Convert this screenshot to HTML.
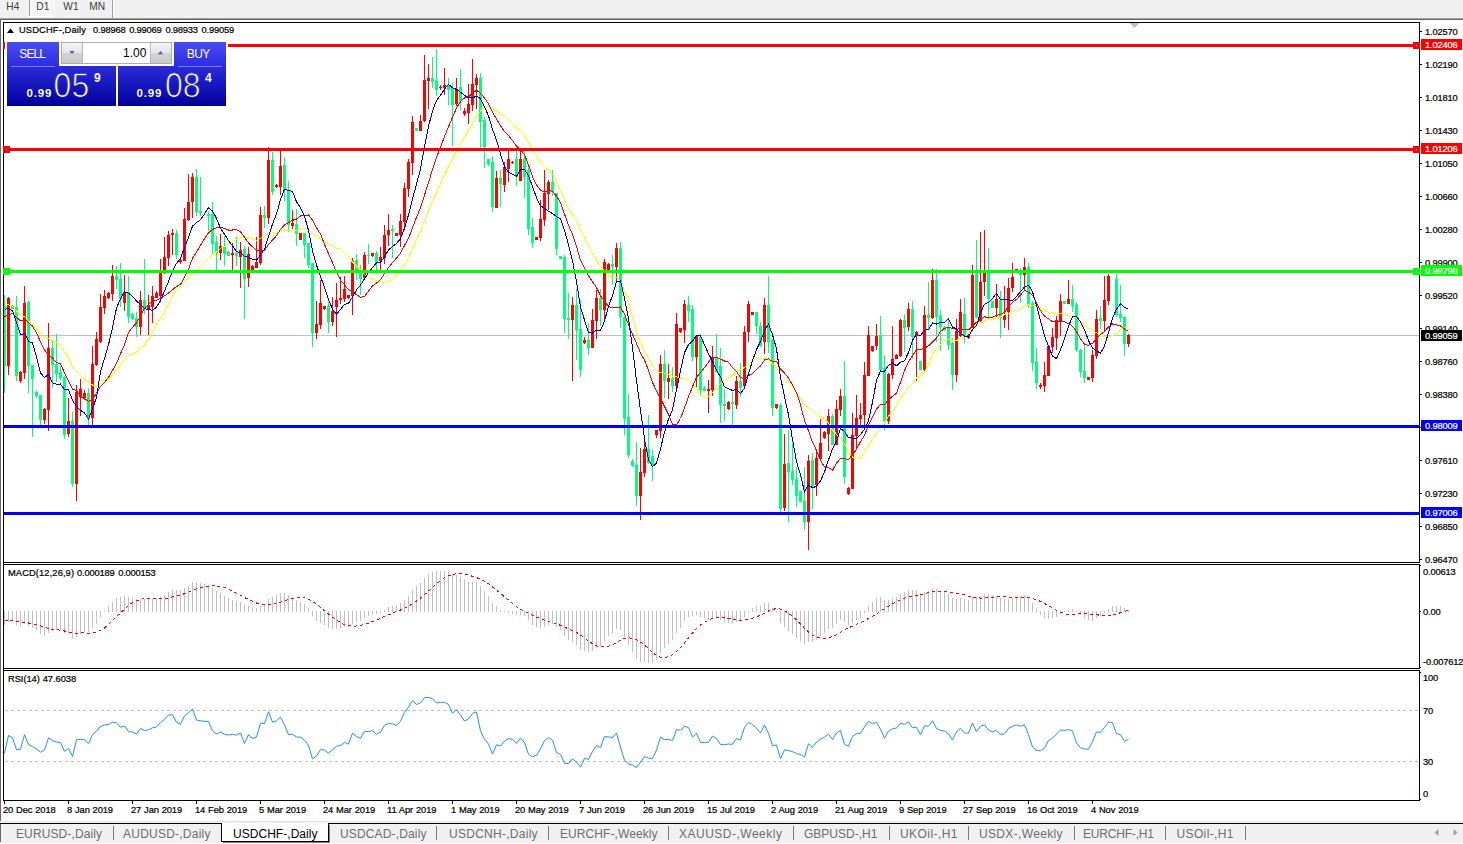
<!DOCTYPE html>
<html><head><meta charset="utf-8"><title>USDCHF Daily</title>
<style>
html,body{margin:0;padding:0;background:#fff;}
body{width:1463px;height:844px;position:relative;overflow:hidden;font-family:"Liberation Sans",sans-serif;}
svg{position:absolute;left:0;top:0;}
.t{position:absolute;white-space:nowrap;font-family:"Liberation Sans",sans-serif;}
</style></head><body>
<svg width="1463" height="844" viewBox="0 0 1463 844" shape-rendering="crispEdges">
<rect x="0" y="0" width="1463" height="844" fill="#ffffff"/>
<rect x="0" y="0" width="1463" height="18" fill="#f0f0f0"/>
<rect x="0" y="18" width="1463" height="1" fill="#a0a0a0"/>
<rect x="0" y="19" width="1463" height="1" fill="#696969"/>
<rect x="0" y="20" width="1" height="801" fill="#696969"/>
<rect x="29" y="0" width="1" height="16" fill="#a0a0a0"/>
<rect x="112" y="0" width="1" height="18" fill="#a0a0a0"/>
<rect x="113" y="0" width="1" height="18" fill="#ffffff"/>
<defs><pattern id="hatch" width="2" height="2" patternUnits="userSpaceOnUse"><rect width="2" height="2" fill="#f0f0f0"/><rect width="1" height="1" fill="#ffffff"/><rect x="1" y="1" width="1" height="1" fill="#ffffff"/></pattern></defs>
<rect x="30" y="0" width="24" height="16" fill="url(#hatch)"/>
<rect x="29" y="16" width="26" height="1" fill="#ffffff"/>
<rect x="54" y="0" width="1" height="17" fill="#ffffff"/>
<defs><clipPath id="cm"><rect x="4" y="23" width="1415" height="539"/></clipPath></defs>
<g clip-path="url(#cm)">
<rect x="4" y="335" width="1415" height="1" fill="#c0c0c0"/>
<rect x="4" y="295" width="1" height="98" fill="#00ff7f"/>
<rect x="3" y="306" width="3" height="60" fill="#00ff7f"/>
<rect x="8" y="297" width="1" height="78" fill="#ff0000"/>
<rect x="7" y="298" width="3" height="68" fill="#ff0000"/>
<rect x="12" y="305" width="1" height="4" fill="#00ff7f"/>
<rect x="11" y="306" width="3" height="3" fill="#00ff7f"/>
<rect x="16" y="296" width="1" height="85" fill="#00ff7f"/>
<rect x="15" y="307" width="3" height="69" fill="#00ff7f"/>
<rect x="20" y="371" width="1" height="12" fill="#ff0000"/>
<rect x="19" y="372" width="3" height="9" fill="#ff0000"/>
<rect x="24" y="286" width="1" height="93" fill="#ff0000"/>
<rect x="23" y="303" width="3" height="70" fill="#ff0000"/>
<rect x="28" y="301" width="1" height="92" fill="#00ff7f"/>
<rect x="27" y="302" width="3" height="64" fill="#00ff7f"/>
<rect x="32" y="365" width="1" height="72" fill="#00ff7f"/>
<rect x="31" y="365" width="3" height="14" fill="#00ff7f"/>
<rect x="36" y="390" width="1" height="8" fill="#00ff7f"/>
<rect x="35" y="392" width="3" height="4" fill="#00ff7f"/>
<rect x="40" y="395" width="1" height="30" fill="#00ff7f"/>
<rect x="39" y="395" width="3" height="25" fill="#00ff7f"/>
<rect x="44" y="408" width="1" height="16" fill="#ff0000"/>
<rect x="43" y="409" width="3" height="11" fill="#ff0000"/>
<rect x="48" y="323" width="1" height="108" fill="#ff0000"/>
<rect x="47" y="348" width="3" height="62" fill="#ff0000"/>
<rect x="52" y="341" width="1" height="47" fill="#00ff7f"/>
<rect x="51" y="348" width="3" height="17" fill="#00ff7f"/>
<rect x="56" y="334" width="1" height="48" fill="#00ff7f"/>
<rect x="55" y="364" width="3" height="10" fill="#00ff7f"/>
<rect x="60" y="366" width="1" height="14" fill="#00ff7f"/>
<rect x="59" y="372" width="3" height="6" fill="#00ff7f"/>
<rect x="64" y="376" width="1" height="63" fill="#00ff7f"/>
<rect x="63" y="377" width="3" height="58" fill="#00ff7f"/>
<rect x="68" y="398" width="1" height="39" fill="#ff0000"/>
<rect x="67" y="421" width="3" height="13" fill="#ff0000"/>
<rect x="72" y="412" width="1" height="75" fill="#00ff7f"/>
<rect x="71" y="421" width="3" height="63" fill="#00ff7f"/>
<rect x="76" y="385" width="1" height="116" fill="#ff0000"/>
<rect x="75" y="392" width="3" height="92" fill="#ff0000"/>
<rect x="80" y="379" width="1" height="37" fill="#ff0000"/>
<rect x="79" y="389" width="3" height="8" fill="#ff0000"/>
<rect x="84" y="390" width="1" height="10" fill="#ff0000"/>
<rect x="83" y="393" width="3" height="5" fill="#ff0000"/>
<rect x="88" y="388" width="1" height="37" fill="#00ff7f"/>
<rect x="87" y="393" width="3" height="26" fill="#00ff7f"/>
<rect x="92" y="346" width="1" height="79" fill="#ff0000"/>
<rect x="91" y="364" width="3" height="54" fill="#ff0000"/>
<rect x="96" y="332" width="1" height="34" fill="#ff0000"/>
<rect x="95" y="339" width="3" height="26" fill="#ff0000"/>
<rect x="100" y="294" width="1" height="49" fill="#ff0000"/>
<rect x="99" y="307" width="3" height="35" fill="#ff0000"/>
<rect x="104" y="290" width="1" height="24" fill="#ff0000"/>
<rect x="103" y="296" width="3" height="12" fill="#ff0000"/>
<rect x="108" y="292" width="1" height="7" fill="#ff0000"/>
<rect x="107" y="293" width="3" height="5" fill="#ff0000"/>
<rect x="112" y="265" width="1" height="36" fill="#ff0000"/>
<rect x="111" y="276" width="3" height="18" fill="#ff0000"/>
<rect x="116" y="266" width="1" height="23" fill="#00ff7f"/>
<rect x="115" y="276" width="3" height="4" fill="#00ff7f"/>
<rect x="120" y="263" width="1" height="44" fill="#00ff7f"/>
<rect x="119" y="279" width="3" height="20" fill="#00ff7f"/>
<rect x="124" y="275" width="1" height="36" fill="#ff0000"/>
<rect x="123" y="292" width="3" height="11" fill="#ff0000"/>
<rect x="128" y="276" width="1" height="47" fill="#00ff7f"/>
<rect x="127" y="292" width="3" height="25" fill="#00ff7f"/>
<rect x="132" y="313" width="1" height="7" fill="#00ff7f"/>
<rect x="131" y="314" width="3" height="5" fill="#00ff7f"/>
<rect x="136" y="312" width="1" height="25" fill="#00ff7f"/>
<rect x="135" y="318" width="3" height="9" fill="#00ff7f"/>
<rect x="140" y="291" width="1" height="44" fill="#ff0000"/>
<rect x="139" y="300" width="3" height="27" fill="#ff0000"/>
<rect x="144" y="259" width="1" height="55" fill="#00ff7f"/>
<rect x="143" y="300" width="3" height="9" fill="#00ff7f"/>
<rect x="148" y="295" width="1" height="40" fill="#ff0000"/>
<rect x="147" y="305" width="3" height="4" fill="#ff0000"/>
<rect x="152" y="286" width="1" height="37" fill="#ff0000"/>
<rect x="151" y="296" width="3" height="11" fill="#ff0000"/>
<rect x="156" y="291" width="1" height="7" fill="#ff0000"/>
<rect x="155" y="293" width="3" height="5" fill="#ff0000"/>
<rect x="160" y="259" width="1" height="39" fill="#ff0000"/>
<rect x="159" y="273" width="3" height="23" fill="#ff0000"/>
<rect x="164" y="237" width="1" height="37" fill="#ff0000"/>
<rect x="163" y="257" width="3" height="13" fill="#ff0000"/>
<rect x="168" y="231" width="1" height="35" fill="#ff0000"/>
<rect x="167" y="235" width="3" height="23" fill="#ff0000"/>
<rect x="172" y="229" width="1" height="26" fill="#ff0000"/>
<rect x="171" y="233" width="3" height="2" fill="#ff0000"/>
<rect x="176" y="230" width="1" height="29" fill="#00ff7f"/>
<rect x="175" y="233" width="3" height="22" fill="#00ff7f"/>
<rect x="180" y="259" width="1" height="5" fill="#ff0000"/>
<rect x="179" y="260" width="3" height="2" fill="#ff0000"/>
<rect x="184" y="208" width="1" height="53" fill="#ff0000"/>
<rect x="183" y="219" width="3" height="42" fill="#ff0000"/>
<rect x="188" y="174" width="1" height="47" fill="#ff0000"/>
<rect x="187" y="202" width="3" height="18" fill="#ff0000"/>
<rect x="192" y="173" width="1" height="45" fill="#ff0000"/>
<rect x="191" y="177" width="3" height="25" fill="#ff0000"/>
<rect x="196" y="169" width="1" height="47" fill="#00ff7f"/>
<rect x="195" y="177" width="3" height="35" fill="#00ff7f"/>
<rect x="200" y="177" width="1" height="39" fill="#00ff7f"/>
<rect x="199" y="211" width="3" height="2" fill="#00ff7f"/>
<rect x="208" y="211" width="1" height="20" fill="#00ff7f"/>
<rect x="207" y="214" width="3" height="2" fill="#00ff7f"/>
<rect x="212" y="202" width="1" height="52" fill="#00ff7f"/>
<rect x="211" y="214" width="3" height="30" fill="#00ff7f"/>
<rect x="216" y="236" width="1" height="36" fill="#00ff7f"/>
<rect x="215" y="242" width="3" height="12" fill="#00ff7f"/>
<rect x="220" y="234" width="1" height="26" fill="#ff0000"/>
<rect x="219" y="246" width="3" height="7" fill="#ff0000"/>
<rect x="224" y="236" width="1" height="30" fill="#00ff7f"/>
<rect x="223" y="247" width="3" height="7" fill="#00ff7f"/>
<rect x="228" y="251" width="1" height="5" fill="#00ff7f"/>
<rect x="227" y="252" width="3" height="4" fill="#00ff7f"/>
<rect x="232" y="243" width="1" height="29" fill="#ff0000"/>
<rect x="231" y="253" width="3" height="2" fill="#ff0000"/>
<rect x="236" y="237" width="1" height="29" fill="#00ff7f"/>
<rect x="235" y="253" width="3" height="3" fill="#00ff7f"/>
<rect x="240" y="242" width="1" height="46" fill="#ff0000"/>
<rect x="239" y="250" width="3" height="7" fill="#ff0000"/>
<rect x="244" y="246" width="1" height="73" fill="#00ff7f"/>
<rect x="243" y="249" width="3" height="30" fill="#00ff7f"/>
<rect x="248" y="247" width="1" height="40" fill="#ff0000"/>
<rect x="247" y="254" width="3" height="24" fill="#ff0000"/>
<rect x="252" y="265" width="1" height="5" fill="#ff0000"/>
<rect x="251" y="266" width="3" height="4" fill="#ff0000"/>
<rect x="256" y="237" width="1" height="31" fill="#ff0000"/>
<rect x="255" y="262" width="3" height="6" fill="#ff0000"/>
<rect x="260" y="207" width="1" height="58" fill="#ff0000"/>
<rect x="259" y="215" width="3" height="48" fill="#ff0000"/>
<rect x="264" y="206" width="1" height="22" fill="#00ff7f"/>
<rect x="263" y="215" width="3" height="3" fill="#00ff7f"/>
<rect x="268" y="147" width="1" height="77" fill="#ff0000"/>
<rect x="267" y="160" width="3" height="58" fill="#ff0000"/>
<rect x="272" y="152" width="1" height="43" fill="#00ff7f"/>
<rect x="271" y="160" width="3" height="32" fill="#00ff7f"/>
<rect x="276" y="184" width="1" height="4" fill="#ff0000"/>
<rect x="275" y="185" width="3" height="2" fill="#ff0000"/>
<rect x="280" y="151" width="1" height="44" fill="#ff0000"/>
<rect x="279" y="166" width="3" height="21" fill="#ff0000"/>
<rect x="284" y="157" width="1" height="44" fill="#00ff7f"/>
<rect x="283" y="165" width="3" height="25" fill="#00ff7f"/>
<rect x="288" y="181" width="1" height="51" fill="#00ff7f"/>
<rect x="287" y="190" width="3" height="35" fill="#00ff7f"/>
<rect x="292" y="210" width="1" height="19" fill="#ff0000"/>
<rect x="291" y="223" width="3" height="3" fill="#ff0000"/>
<rect x="296" y="209" width="1" height="37" fill="#00ff7f"/>
<rect x="295" y="224" width="3" height="10" fill="#00ff7f"/>
<rect x="300" y="233" width="1" height="7" fill="#ff0000"/>
<rect x="299" y="233" width="3" height="7" fill="#ff0000"/>
<rect x="304" y="233" width="1" height="25" fill="#00ff7f"/>
<rect x="303" y="233" width="3" height="12" fill="#00ff7f"/>
<rect x="308" y="243" width="1" height="25" fill="#00ff7f"/>
<rect x="307" y="243" width="3" height="22" fill="#00ff7f"/>
<rect x="312" y="263" width="1" height="84" fill="#00ff7f"/>
<rect x="311" y="263" width="3" height="70" fill="#00ff7f"/>
<rect x="316" y="301" width="1" height="38" fill="#ff0000"/>
<rect x="315" y="324" width="3" height="9" fill="#ff0000"/>
<rect x="320" y="280" width="1" height="49" fill="#ff0000"/>
<rect x="319" y="303" width="3" height="22" fill="#ff0000"/>
<rect x="324" y="306" width="1" height="4" fill="#ff0000"/>
<rect x="323" y="306" width="3" height="3" fill="#ff0000"/>
<rect x="328" y="302" width="1" height="31" fill="#00ff7f"/>
<rect x="327" y="306" width="3" height="16" fill="#00ff7f"/>
<rect x="332" y="297" width="1" height="29" fill="#ff0000"/>
<rect x="331" y="311" width="3" height="11" fill="#ff0000"/>
<rect x="336" y="283" width="1" height="54" fill="#ff0000"/>
<rect x="335" y="300" width="3" height="7" fill="#ff0000"/>
<rect x="340" y="277" width="1" height="27" fill="#ff0000"/>
<rect x="339" y="298" width="3" height="2" fill="#ff0000"/>
<rect x="344" y="276" width="1" height="26" fill="#ff0000"/>
<rect x="343" y="289" width="3" height="10" fill="#ff0000"/>
<rect x="348" y="295" width="1" height="4" fill="#ff0000"/>
<rect x="347" y="295" width="3" height="3" fill="#ff0000"/>
<rect x="352" y="258" width="1" height="57" fill="#ff0000"/>
<rect x="351" y="261" width="3" height="35" fill="#ff0000"/>
<rect x="356" y="254" width="1" height="26" fill="#00ff7f"/>
<rect x="355" y="260" width="3" height="13" fill="#00ff7f"/>
<rect x="360" y="265" width="1" height="30" fill="#00ff7f"/>
<rect x="359" y="273" width="3" height="6" fill="#00ff7f"/>
<rect x="364" y="252" width="1" height="26" fill="#ff0000"/>
<rect x="363" y="255" width="3" height="23" fill="#ff0000"/>
<rect x="368" y="244" width="1" height="20" fill="#00ff7f"/>
<rect x="367" y="255" width="3" height="1" fill="#00ff7f"/>
<rect x="372" y="253" width="1" height="4" fill="#ff0000"/>
<rect x="371" y="253" width="3" height="3" fill="#ff0000"/>
<rect x="376" y="251" width="1" height="23" fill="#00ff7f"/>
<rect x="375" y="253" width="3" height="10" fill="#00ff7f"/>
<rect x="380" y="247" width="1" height="26" fill="#ff0000"/>
<rect x="379" y="257" width="3" height="4" fill="#ff0000"/>
<rect x="384" y="225" width="1" height="39" fill="#ff0000"/>
<rect x="383" y="235" width="3" height="23" fill="#ff0000"/>
<rect x="388" y="214" width="1" height="32" fill="#ff0000"/>
<rect x="387" y="230" width="3" height="5" fill="#ff0000"/>
<rect x="392" y="225" width="1" height="33" fill="#00ff7f"/>
<rect x="391" y="229" width="3" height="2" fill="#00ff7f"/>
<rect x="396" y="233" width="1" height="3" fill="#ff0000"/>
<rect x="395" y="233" width="3" height="3" fill="#ff0000"/>
<rect x="400" y="214" width="1" height="33" fill="#ff0000"/>
<rect x="399" y="221" width="3" height="14" fill="#ff0000"/>
<rect x="404" y="183" width="1" height="44" fill="#ff0000"/>
<rect x="403" y="188" width="3" height="34" fill="#ff0000"/>
<rect x="408" y="159" width="1" height="38" fill="#ff0000"/>
<rect x="407" y="162" width="3" height="27" fill="#ff0000"/>
<rect x="412" y="116" width="1" height="59" fill="#ff0000"/>
<rect x="411" y="122" width="3" height="41" fill="#ff0000"/>
<rect x="416" y="128" width="1" height="3" fill="#00ff7f"/>
<rect x="415" y="128" width="3" height="3" fill="#00ff7f"/>
<rect x="420" y="115" width="1" height="16" fill="#ff0000"/>
<rect x="419" y="121" width="3" height="10" fill="#ff0000"/>
<rect x="424" y="55" width="1" height="67" fill="#ff0000"/>
<rect x="423" y="80" width="3" height="41" fill="#ff0000"/>
<rect x="428" y="64" width="1" height="45" fill="#ff0000"/>
<rect x="427" y="78" width="3" height="3" fill="#ff0000"/>
<rect x="432" y="57" width="1" height="31" fill="#00ff7f"/>
<rect x="431" y="78" width="3" height="4" fill="#00ff7f"/>
<rect x="436" y="49" width="1" height="47" fill="#00ff7f"/>
<rect x="435" y="81" width="3" height="9" fill="#00ff7f"/>
<rect x="440" y="85" width="1" height="5" fill="#ff0000"/>
<rect x="439" y="87" width="3" height="1" fill="#ff0000"/>
<rect x="444" y="68" width="1" height="27" fill="#ff0000"/>
<rect x="443" y="85" width="3" height="3" fill="#ff0000"/>
<rect x="448" y="78" width="1" height="27" fill="#00ff7f"/>
<rect x="447" y="85" width="3" height="5" fill="#00ff7f"/>
<rect x="452" y="83" width="1" height="63" fill="#00ff7f"/>
<rect x="451" y="88" width="3" height="17" fill="#00ff7f"/>
<rect x="456" y="78" width="1" height="28" fill="#ff0000"/>
<rect x="455" y="89" width="3" height="15" fill="#ff0000"/>
<rect x="460" y="69" width="1" height="41" fill="#00ff7f"/>
<rect x="459" y="87" width="3" height="14" fill="#00ff7f"/>
<rect x="464" y="108" width="1" height="8" fill="#ff0000"/>
<rect x="463" y="111" width="3" height="3" fill="#ff0000"/>
<rect x="468" y="84" width="1" height="40" fill="#ff0000"/>
<rect x="467" y="104" width="3" height="9" fill="#ff0000"/>
<rect x="472" y="59" width="1" height="52" fill="#ff0000"/>
<rect x="471" y="84" width="3" height="21" fill="#ff0000"/>
<rect x="476" y="74" width="1" height="35" fill="#ff0000"/>
<rect x="475" y="78" width="3" height="7" fill="#ff0000"/>
<rect x="480" y="73" width="1" height="75" fill="#00ff7f"/>
<rect x="479" y="78" width="3" height="44" fill="#00ff7f"/>
<rect x="484" y="117" width="1" height="51" fill="#00ff7f"/>
<rect x="483" y="120" width="3" height="27" fill="#00ff7f"/>
<rect x="488" y="159" width="1" height="7" fill="#00ff7f"/>
<rect x="487" y="159" width="3" height="5" fill="#00ff7f"/>
<rect x="492" y="156" width="1" height="56" fill="#00ff7f"/>
<rect x="491" y="162" width="3" height="45" fill="#00ff7f"/>
<rect x="496" y="171" width="1" height="37" fill="#ff0000"/>
<rect x="495" y="178" width="3" height="30" fill="#ff0000"/>
<rect x="500" y="170" width="1" height="37" fill="#00ff7f"/>
<rect x="499" y="178" width="3" height="6" fill="#00ff7f"/>
<rect x="504" y="162" width="1" height="30" fill="#ff0000"/>
<rect x="503" y="167" width="3" height="18" fill="#ff0000"/>
<rect x="508" y="151" width="1" height="31" fill="#ff0000"/>
<rect x="507" y="159" width="3" height="10" fill="#ff0000"/>
<rect x="512" y="161" width="1" height="3" fill="#ff0000"/>
<rect x="511" y="162" width="3" height="1" fill="#ff0000"/>
<rect x="516" y="151" width="1" height="35" fill="#00ff7f"/>
<rect x="515" y="159" width="3" height="18" fill="#00ff7f"/>
<rect x="520" y="151" width="1" height="30" fill="#ff0000"/>
<rect x="519" y="159" width="3" height="22" fill="#ff0000"/>
<rect x="524" y="151" width="1" height="47" fill="#00ff7f"/>
<rect x="523" y="159" width="3" height="18" fill="#00ff7f"/>
<rect x="528" y="168" width="1" height="67" fill="#00ff7f"/>
<rect x="527" y="170" width="3" height="59" fill="#00ff7f"/>
<rect x="532" y="218" width="1" height="30" fill="#00ff7f"/>
<rect x="531" y="227" width="3" height="16" fill="#00ff7f"/>
<rect x="536" y="237" width="1" height="3" fill="#ff0000"/>
<rect x="535" y="237" width="3" height="3" fill="#ff0000"/>
<rect x="540" y="200" width="1" height="41" fill="#ff0000"/>
<rect x="539" y="219" width="3" height="19" fill="#ff0000"/>
<rect x="544" y="170" width="1" height="56" fill="#ff0000"/>
<rect x="543" y="193" width="3" height="27" fill="#ff0000"/>
<rect x="548" y="180" width="1" height="30" fill="#ff0000"/>
<rect x="547" y="182" width="3" height="12" fill="#ff0000"/>
<rect x="552" y="170" width="1" height="26" fill="#00ff7f"/>
<rect x="551" y="182" width="3" height="10" fill="#00ff7f"/>
<rect x="556" y="193" width="1" height="62" fill="#00ff7f"/>
<rect x="555" y="193" width="3" height="56" fill="#00ff7f"/>
<rect x="560" y="256" width="1" height="3" fill="#00ff7f"/>
<rect x="559" y="256" width="3" height="3" fill="#00ff7f"/>
<rect x="564" y="255" width="1" height="78" fill="#00ff7f"/>
<rect x="563" y="257" width="3" height="62" fill="#00ff7f"/>
<rect x="568" y="293" width="1" height="46" fill="#00ff7f"/>
<rect x="567" y="318" width="3" height="2" fill="#00ff7f"/>
<rect x="572" y="297" width="1" height="84" fill="#ff0000"/>
<rect x="571" y="305" width="3" height="15" fill="#ff0000"/>
<rect x="576" y="289" width="1" height="71" fill="#00ff7f"/>
<rect x="575" y="305" width="3" height="25" fill="#00ff7f"/>
<rect x="580" y="300" width="1" height="77" fill="#00ff7f"/>
<rect x="579" y="329" width="3" height="41" fill="#00ff7f"/>
<rect x="584" y="337" width="1" height="7" fill="#ff0000"/>
<rect x="583" y="340" width="3" height="3" fill="#ff0000"/>
<rect x="588" y="323" width="1" height="32" fill="#00ff7f"/>
<rect x="587" y="340" width="3" height="8" fill="#00ff7f"/>
<rect x="592" y="309" width="1" height="39" fill="#ff0000"/>
<rect x="591" y="320" width="3" height="28" fill="#ff0000"/>
<rect x="596" y="290" width="1" height="49" fill="#ff0000"/>
<rect x="595" y="298" width="3" height="23" fill="#ff0000"/>
<rect x="600" y="289" width="1" height="37" fill="#00ff7f"/>
<rect x="599" y="298" width="3" height="12" fill="#00ff7f"/>
<rect x="604" y="259" width="1" height="61" fill="#ff0000"/>
<rect x="603" y="262" width="3" height="48" fill="#ff0000"/>
<rect x="608" y="263" width="1" height="10" fill="#ff0000"/>
<rect x="607" y="264" width="3" height="8" fill="#ff0000"/>
<rect x="612" y="255" width="1" height="30" fill="#00ff7f"/>
<rect x="611" y="264" width="3" height="3" fill="#00ff7f"/>
<rect x="616" y="243" width="1" height="38" fill="#ff0000"/>
<rect x="615" y="248" width="3" height="19" fill="#ff0000"/>
<rect x="620" y="242" width="1" height="86" fill="#00ff7f"/>
<rect x="619" y="248" width="3" height="69" fill="#00ff7f"/>
<rect x="624" y="316" width="1" height="119" fill="#00ff7f"/>
<rect x="623" y="317" width="3" height="102" fill="#00ff7f"/>
<rect x="628" y="394" width="1" height="64" fill="#00ff7f"/>
<rect x="627" y="417" width="3" height="38" fill="#00ff7f"/>
<rect x="632" y="459" width="1" height="8" fill="#00ff7f"/>
<rect x="631" y="461" width="3" height="5" fill="#00ff7f"/>
<rect x="636" y="442" width="1" height="64" fill="#00ff7f"/>
<rect x="635" y="465" width="3" height="31" fill="#00ff7f"/>
<rect x="640" y="448" width="1" height="72" fill="#ff0000"/>
<rect x="639" y="472" width="3" height="24" fill="#ff0000"/>
<rect x="644" y="442" width="1" height="35" fill="#ff0000"/>
<rect x="643" y="449" width="3" height="24" fill="#ff0000"/>
<rect x="648" y="415" width="1" height="49" fill="#00ff7f"/>
<rect x="647" y="449" width="3" height="14" fill="#00ff7f"/>
<rect x="652" y="450" width="1" height="31" fill="#00ff7f"/>
<rect x="651" y="456" width="3" height="10" fill="#00ff7f"/>
<rect x="656" y="430" width="1" height="8" fill="#ff0000"/>
<rect x="655" y="430" width="3" height="5" fill="#ff0000"/>
<rect x="660" y="355" width="1" height="83" fill="#ff0000"/>
<rect x="659" y="364" width="3" height="67" fill="#ff0000"/>
<rect x="664" y="350" width="1" height="48" fill="#00ff7f"/>
<rect x="663" y="364" width="3" height="17" fill="#00ff7f"/>
<rect x="668" y="364" width="1" height="35" fill="#ff0000"/>
<rect x="667" y="378" width="3" height="4" fill="#ff0000"/>
<rect x="672" y="367" width="1" height="25" fill="#00ff7f"/>
<rect x="671" y="378" width="3" height="8" fill="#00ff7f"/>
<rect x="676" y="313" width="1" height="74" fill="#ff0000"/>
<rect x="675" y="324" width="3" height="62" fill="#ff0000"/>
<rect x="680" y="328" width="1" height="5" fill="#ff0000"/>
<rect x="679" y="328" width="3" height="4" fill="#ff0000"/>
<rect x="684" y="300" width="1" height="43" fill="#ff0000"/>
<rect x="683" y="304" width="3" height="26" fill="#ff0000"/>
<rect x="688" y="296" width="1" height="26" fill="#00ff7f"/>
<rect x="687" y="305" width="3" height="6" fill="#00ff7f"/>
<rect x="692" y="305" width="1" height="56" fill="#00ff7f"/>
<rect x="691" y="309" width="3" height="48" fill="#00ff7f"/>
<rect x="696" y="335" width="1" height="52" fill="#ff0000"/>
<rect x="695" y="336" width="3" height="21" fill="#ff0000"/>
<rect x="700" y="334" width="1" height="62" fill="#00ff7f"/>
<rect x="699" y="337" width="3" height="53" fill="#00ff7f"/>
<rect x="704" y="386" width="1" height="5" fill="#00ff7f"/>
<rect x="703" y="388" width="3" height="3" fill="#00ff7f"/>
<rect x="708" y="380" width="1" height="33" fill="#ff0000"/>
<rect x="707" y="389" width="3" height="2" fill="#ff0000"/>
<rect x="712" y="346" width="1" height="50" fill="#ff0000"/>
<rect x="711" y="358" width="3" height="32" fill="#ff0000"/>
<rect x="716" y="334" width="1" height="38" fill="#00ff7f"/>
<rect x="715" y="357" width="3" height="15" fill="#00ff7f"/>
<rect x="720" y="348" width="1" height="75" fill="#00ff7f"/>
<rect x="719" y="366" width="3" height="39" fill="#00ff7f"/>
<rect x="724" y="389" width="1" height="32" fill="#00ff7f"/>
<rect x="723" y="404" width="3" height="2" fill="#00ff7f"/>
<rect x="728" y="401" width="1" height="9" fill="#ff0000"/>
<rect x="727" y="402" width="3" height="7" fill="#ff0000"/>
<rect x="732" y="392" width="1" height="33" fill="#00ff7f"/>
<rect x="731" y="402" width="3" height="2" fill="#00ff7f"/>
<rect x="736" y="376" width="1" height="33" fill="#ff0000"/>
<rect x="735" y="381" width="3" height="24" fill="#ff0000"/>
<rect x="740" y="363" width="1" height="34" fill="#00ff7f"/>
<rect x="739" y="381" width="3" height="7" fill="#00ff7f"/>
<rect x="744" y="326" width="1" height="61" fill="#ff0000"/>
<rect x="743" y="332" width="3" height="54" fill="#ff0000"/>
<rect x="748" y="301" width="1" height="41" fill="#ff0000"/>
<rect x="747" y="304" width="3" height="28" fill="#ff0000"/>
<rect x="752" y="312" width="1" height="3" fill="#ff0000"/>
<rect x="751" y="312" width="3" height="3" fill="#ff0000"/>
<rect x="756" y="312" width="1" height="22" fill="#00ff7f"/>
<rect x="755" y="312" width="3" height="14" fill="#00ff7f"/>
<rect x="760" y="322" width="1" height="25" fill="#00ff7f"/>
<rect x="759" y="326" width="3" height="20" fill="#00ff7f"/>
<rect x="764" y="298" width="1" height="56" fill="#ff0000"/>
<rect x="763" y="305" width="3" height="37" fill="#ff0000"/>
<rect x="768" y="276" width="1" height="77" fill="#00ff7f"/>
<rect x="767" y="305" width="3" height="37" fill="#00ff7f"/>
<rect x="772" y="339" width="1" height="77" fill="#00ff7f"/>
<rect x="771" y="340" width="3" height="68" fill="#00ff7f"/>
<rect x="776" y="404" width="1" height="5" fill="#ff0000"/>
<rect x="775" y="404" width="3" height="4" fill="#ff0000"/>
<rect x="780" y="403" width="1" height="109" fill="#00ff7f"/>
<rect x="779" y="405" width="3" height="104" fill="#00ff7f"/>
<rect x="784" y="434" width="1" height="77" fill="#ff0000"/>
<rect x="783" y="464" width="3" height="44" fill="#ff0000"/>
<rect x="788" y="430" width="1" height="92" fill="#00ff7f"/>
<rect x="787" y="463" width="3" height="9" fill="#00ff7f"/>
<rect x="792" y="443" width="1" height="42" fill="#00ff7f"/>
<rect x="791" y="471" width="3" height="9" fill="#00ff7f"/>
<rect x="796" y="467" width="1" height="40" fill="#00ff7f"/>
<rect x="795" y="479" width="3" height="17" fill="#00ff7f"/>
<rect x="800" y="491" width="1" height="11" fill="#00ff7f"/>
<rect x="799" y="491" width="3" height="11" fill="#00ff7f"/>
<rect x="804" y="467" width="1" height="63" fill="#00ff7f"/>
<rect x="803" y="501" width="3" height="21" fill="#00ff7f"/>
<rect x="808" y="455" width="1" height="95" fill="#ff0000"/>
<rect x="807" y="461" width="3" height="61" fill="#ff0000"/>
<rect x="812" y="453" width="1" height="56" fill="#00ff7f"/>
<rect x="811" y="460" width="3" height="26" fill="#00ff7f"/>
<rect x="816" y="449" width="1" height="47" fill="#ff0000"/>
<rect x="815" y="458" width="3" height="27" fill="#ff0000"/>
<rect x="820" y="419" width="1" height="40" fill="#ff0000"/>
<rect x="819" y="443" width="3" height="16" fill="#ff0000"/>
<rect x="824" y="431" width="1" height="8" fill="#ff0000"/>
<rect x="823" y="432" width="3" height="6" fill="#ff0000"/>
<rect x="828" y="409" width="1" height="42" fill="#ff0000"/>
<rect x="827" y="416" width="3" height="18" fill="#ff0000"/>
<rect x="832" y="414" width="1" height="31" fill="#00ff7f"/>
<rect x="831" y="416" width="3" height="29" fill="#00ff7f"/>
<rect x="836" y="400" width="1" height="45" fill="#ff0000"/>
<rect x="835" y="409" width="3" height="36" fill="#ff0000"/>
<rect x="840" y="389" width="1" height="27" fill="#ff0000"/>
<rect x="839" y="396" width="3" height="14" fill="#ff0000"/>
<rect x="844" y="361" width="1" height="123" fill="#00ff7f"/>
<rect x="843" y="396" width="3" height="81" fill="#00ff7f"/>
<rect x="848" y="487" width="1" height="8" fill="#ff0000"/>
<rect x="847" y="488" width="3" height="6" fill="#ff0000"/>
<rect x="852" y="413" width="1" height="76" fill="#ff0000"/>
<rect x="851" y="435" width="3" height="54" fill="#ff0000"/>
<rect x="856" y="395" width="1" height="55" fill="#ff0000"/>
<rect x="855" y="418" width="3" height="18" fill="#ff0000"/>
<rect x="860" y="403" width="1" height="22" fill="#ff0000"/>
<rect x="859" y="415" width="3" height="4" fill="#ff0000"/>
<rect x="864" y="362" width="1" height="63" fill="#ff0000"/>
<rect x="863" y="375" width="3" height="40" fill="#ff0000"/>
<rect x="868" y="326" width="1" height="50" fill="#ff0000"/>
<rect x="867" y="335" width="3" height="41" fill="#ff0000"/>
<rect x="872" y="346" width="1" height="6" fill="#ff0000"/>
<rect x="871" y="346" width="3" height="5" fill="#ff0000"/>
<rect x="876" y="324" width="1" height="26" fill="#ff0000"/>
<rect x="875" y="336" width="3" height="10" fill="#ff0000"/>
<rect x="880" y="316" width="1" height="54" fill="#00ff7f"/>
<rect x="879" y="335" width="3" height="35" fill="#00ff7f"/>
<rect x="884" y="355" width="1" height="75" fill="#00ff7f"/>
<rect x="883" y="368" width="3" height="53" fill="#00ff7f"/>
<rect x="888" y="373" width="1" height="51" fill="#ff0000"/>
<rect x="887" y="374" width="3" height="47" fill="#ff0000"/>
<rect x="892" y="326" width="1" height="53" fill="#ff0000"/>
<rect x="891" y="359" width="3" height="16" fill="#ff0000"/>
<rect x="896" y="354" width="1" height="5" fill="#ff0000"/>
<rect x="895" y="355" width="3" height="4" fill="#ff0000"/>
<rect x="900" y="319" width="1" height="38" fill="#ff0000"/>
<rect x="899" y="320" width="3" height="36" fill="#ff0000"/>
<rect x="904" y="314" width="1" height="38" fill="#00ff7f"/>
<rect x="903" y="320" width="3" height="8" fill="#00ff7f"/>
<rect x="908" y="303" width="1" height="28" fill="#ff0000"/>
<rect x="907" y="309" width="3" height="18" fill="#ff0000"/>
<rect x="912" y="301" width="1" height="58" fill="#00ff7f"/>
<rect x="911" y="309" width="3" height="28" fill="#00ff7f"/>
<rect x="916" y="331" width="1" height="50" fill="#ff0000"/>
<rect x="915" y="332" width="3" height="4" fill="#ff0000"/>
<rect x="920" y="361" width="1" height="9" fill="#00ff7f"/>
<rect x="919" y="361" width="3" height="9" fill="#00ff7f"/>
<rect x="924" y="306" width="1" height="67" fill="#ff0000"/>
<rect x="923" y="315" width="3" height="55" fill="#ff0000"/>
<rect x="928" y="282" width="1" height="48" fill="#00ff7f"/>
<rect x="927" y="315" width="3" height="3" fill="#00ff7f"/>
<rect x="932" y="269" width="1" height="50" fill="#ff0000"/>
<rect x="931" y="280" width="3" height="38" fill="#ff0000"/>
<rect x="936" y="269" width="1" height="73" fill="#00ff7f"/>
<rect x="935" y="280" width="3" height="37" fill="#00ff7f"/>
<rect x="940" y="310" width="1" height="41" fill="#00ff7f"/>
<rect x="939" y="316" width="3" height="11" fill="#00ff7f"/>
<rect x="944" y="326" width="1" height="5" fill="#00ff7f"/>
<rect x="943" y="327" width="3" height="3" fill="#00ff7f"/>
<rect x="948" y="319" width="1" height="31" fill="#00ff7f"/>
<rect x="947" y="328" width="3" height="17" fill="#00ff7f"/>
<rect x="952" y="338" width="1" height="52" fill="#00ff7f"/>
<rect x="951" y="343" width="3" height="32" fill="#00ff7f"/>
<rect x="956" y="319" width="1" height="63" fill="#ff0000"/>
<rect x="955" y="331" width="3" height="44" fill="#ff0000"/>
<rect x="960" y="299" width="1" height="38" fill="#ff0000"/>
<rect x="959" y="312" width="3" height="24" fill="#ff0000"/>
<rect x="964" y="298" width="1" height="45" fill="#00ff7f"/>
<rect x="963" y="314" width="3" height="21" fill="#00ff7f"/>
<rect x="968" y="334" width="1" height="5" fill="#ff0000"/>
<rect x="967" y="335" width="3" height="3" fill="#ff0000"/>
<rect x="972" y="265" width="1" height="63" fill="#ff0000"/>
<rect x="971" y="275" width="3" height="53" fill="#ff0000"/>
<rect x="976" y="240" width="1" height="78" fill="#00ff7f"/>
<rect x="975" y="274" width="3" height="44" fill="#00ff7f"/>
<rect x="980" y="232" width="1" height="90" fill="#ff0000"/>
<rect x="979" y="282" width="3" height="39" fill="#ff0000"/>
<rect x="984" y="230" width="1" height="66" fill="#ff0000"/>
<rect x="983" y="273" width="3" height="9" fill="#ff0000"/>
<rect x="988" y="248" width="1" height="71" fill="#00ff7f"/>
<rect x="987" y="273" width="3" height="26" fill="#00ff7f"/>
<rect x="992" y="301" width="1" height="7" fill="#00ff7f"/>
<rect x="991" y="301" width="3" height="7" fill="#00ff7f"/>
<rect x="996" y="284" width="1" height="34" fill="#ff0000"/>
<rect x="995" y="299" width="3" height="9" fill="#ff0000"/>
<rect x="1000" y="291" width="1" height="47" fill="#00ff7f"/>
<rect x="999" y="300" width="3" height="18" fill="#00ff7f"/>
<rect x="1004" y="286" width="1" height="42" fill="#ff0000"/>
<rect x="1003" y="315" width="3" height="5" fill="#ff0000"/>
<rect x="1008" y="278" width="1" height="52" fill="#ff0000"/>
<rect x="1007" y="288" width="3" height="24" fill="#ff0000"/>
<rect x="1012" y="263" width="1" height="29" fill="#ff0000"/>
<rect x="1011" y="277" width="3" height="11" fill="#ff0000"/>
<rect x="1016" y="269" width="1" height="1" fill="#ff0000"/>
<rect x="1015" y="269" width="3" height="1" fill="#ff0000"/>
<rect x="1020" y="268" width="1" height="35" fill="#00ff7f"/>
<rect x="1019" y="270" width="3" height="5" fill="#00ff7f"/>
<rect x="1024" y="258" width="1" height="32" fill="#ff0000"/>
<rect x="1023" y="267" width="3" height="8" fill="#ff0000"/>
<rect x="1028" y="263" width="1" height="45" fill="#00ff7f"/>
<rect x="1027" y="267" width="3" height="37" fill="#00ff7f"/>
<rect x="1032" y="301" width="1" height="70" fill="#00ff7f"/>
<rect x="1031" y="303" width="3" height="60" fill="#00ff7f"/>
<rect x="1036" y="348" width="1" height="41" fill="#00ff7f"/>
<rect x="1035" y="362" width="3" height="21" fill="#00ff7f"/>
<rect x="1040" y="383" width="1" height="6" fill="#ff0000"/>
<rect x="1039" y="385" width="3" height="2" fill="#ff0000"/>
<rect x="1044" y="362" width="1" height="30" fill="#ff0000"/>
<rect x="1043" y="375" width="3" height="11" fill="#ff0000"/>
<rect x="1048" y="345" width="1" height="31" fill="#ff0000"/>
<rect x="1047" y="346" width="3" height="30" fill="#ff0000"/>
<rect x="1052" y="328" width="1" height="25" fill="#ff0000"/>
<rect x="1051" y="337" width="3" height="10" fill="#ff0000"/>
<rect x="1056" y="316" width="1" height="34" fill="#ff0000"/>
<rect x="1055" y="320" width="3" height="18" fill="#ff0000"/>
<rect x="1060" y="294" width="1" height="42" fill="#ff0000"/>
<rect x="1059" y="301" width="3" height="21" fill="#ff0000"/>
<rect x="1064" y="301" width="1" height="3" fill="#00ff7f"/>
<rect x="1063" y="301" width="3" height="3" fill="#00ff7f"/>
<rect x="1068" y="280" width="1" height="24" fill="#ff0000"/>
<rect x="1067" y="299" width="3" height="5" fill="#ff0000"/>
<rect x="1072" y="285" width="1" height="27" fill="#00ff7f"/>
<rect x="1071" y="299" width="3" height="7" fill="#00ff7f"/>
<rect x="1076" y="302" width="1" height="50" fill="#00ff7f"/>
<rect x="1075" y="305" width="3" height="45" fill="#00ff7f"/>
<rect x="1080" y="349" width="1" height="28" fill="#00ff7f"/>
<rect x="1079" y="350" width="3" height="22" fill="#00ff7f"/>
<rect x="1084" y="345" width="1" height="38" fill="#00ff7f"/>
<rect x="1083" y="371" width="3" height="7" fill="#00ff7f"/>
<rect x="1088" y="377" width="1" height="3" fill="#ff0000"/>
<rect x="1087" y="377" width="3" height="3" fill="#ff0000"/>
<rect x="1092" y="350" width="1" height="32" fill="#ff0000"/>
<rect x="1091" y="355" width="3" height="23" fill="#ff0000"/>
<rect x="1096" y="310" width="1" height="49" fill="#ff0000"/>
<rect x="1095" y="319" width="3" height="37" fill="#ff0000"/>
<rect x="1100" y="306" width="1" height="23" fill="#00ff7f"/>
<rect x="1099" y="318" width="3" height="3" fill="#00ff7f"/>
<rect x="1104" y="276" width="1" height="55" fill="#ff0000"/>
<rect x="1103" y="300" width="3" height="21" fill="#ff0000"/>
<rect x="1108" y="274" width="1" height="31" fill="#ff0000"/>
<rect x="1107" y="276" width="3" height="25" fill="#ff0000"/>
<rect x="1116" y="274" width="1" height="43" fill="#00ff7f"/>
<rect x="1115" y="279" width="3" height="36" fill="#00ff7f"/>
<rect x="1120" y="285" width="1" height="37" fill="#00ff7f"/>
<rect x="1119" y="314" width="3" height="4" fill="#00ff7f"/>
<rect x="1124" y="316" width="1" height="40" fill="#00ff7f"/>
<rect x="1123" y="317" width="3" height="27" fill="#00ff7f"/>
<rect x="1128" y="334" width="1" height="13" fill="#ff0000"/>
<rect x="1127" y="335" width="3" height="9" fill="#ff0000"/>
<polyline points="4.5,303.8 8.5,304.7 12.5,306.1 16.5,310.8 20.5,315.3 24.5,316.5 28.5,320.6 32.5,325.4 36.5,328.8 40.5,333.4 44.5,337.4 48.5,338.6 52.5,340.5 56.5,342.9 60.5,345.4 64.5,351.7 68.5,357.8 72.5,366.8 76.5,371.9 80.5,375.4 84.5,379.4 88.5,381.9 92.5,385.1 96.5,386.6 100.5,383.3 104.5,379.7 108.5,379.2 112.5,375.0 116.5,370.3 120.5,365.7 124.5,359.6 128.5,355.2 132.5,353.8 136.5,352.0 140.5,348.5 144.5,345.2 148.5,339.1 152.5,333.1 156.5,324.1 160.5,318.4 164.5,312.2 168.5,304.7 172.5,295.8 176.5,290.6 180.5,286.8 184.5,282.6 188.5,278.2 192.5,272.6 196.5,269.5 200.5,266.4 204.5,262.4 208.5,258.7 212.5,255.3 216.5,252.2 220.5,248.4 224.5,246.1 228.5,243.6 232.5,241.1 236.5,239.2 240.5,237.1 244.5,237.4 248.5,237.2 252.5,238.7 256.5,240.1 260.5,238.3 264.5,236.2 268.5,233.4 272.5,232.9 276.5,233.2 280.5,231.1 284.5,230.0 288.5,230.4 292.5,230.8 296.5,230.3 300.5,229.4 304.5,229.2 308.5,229.8 312.5,233.4 316.5,236.8 320.5,239.1 324.5,241.8 328.5,243.8 332.5,246.5 336.5,248.1 340.5,249.8 344.5,253.4 348.5,257.1 352.5,261.9 356.5,265.8 360.5,270.2 364.5,274.4 368.5,277.6 372.5,279.0 376.5,280.9 380.5,282.0 384.5,282.1 388.5,281.5 392.5,279.8 396.5,275.1 400.5,270.3 404.5,264.8 408.5,258.0 412.5,248.5 416.5,239.8 420.5,231.3 424.5,220.9 428.5,210.9 432.5,200.7 436.5,192.5 440.5,183.7 444.5,174.5 448.5,166.6 452.5,159.4 456.5,151.5 460.5,143.8 464.5,136.9 468.5,130.6 472.5,123.7 476.5,116.5 480.5,111.1 484.5,107.5 488.5,106.3 492.5,108.4 496.5,111.1 500.5,113.6 504.5,115.8 508.5,119.6 512.5,123.5 516.5,128.1 520.5,131.5 524.5,135.7 528.5,142.5 532.5,149.8 536.5,156.1 540.5,162.3 544.5,166.7 548.5,170.1 552.5,174.3 556.5,182.1 560.5,190.7 564.5,200.1 568.5,208.3 572.5,215.0 576.5,220.9 580.5,230.0 584.5,237.4 588.5,246.0 592.5,253.7 596.5,260.2 600.5,266.5 604.5,271.4 608.5,275.6 612.5,277.4 616.5,277.7 620.5,281.5 624.5,290.9 628.5,303.3 632.5,316.8 636.5,331.3 640.5,342.0 644.5,351.1 648.5,357.9 652.5,364.9 656.5,370.9 660.5,372.5 664.5,373.1 668.5,374.9 672.5,376.7 676.5,376.9 680.5,378.3 684.5,378.1 688.5,380.4 692.5,384.8 696.5,388.1 700.5,394.8 704.5,398.3 708.5,396.9 712.5,392.4 716.5,387.8 720.5,383.5 724.5,380.3 728.5,378.0 732.5,375.2 736.5,371.2 740.5,369.1 744.5,367.6 748.5,364.0 752.5,360.9 756.5,358.0 760.5,359.0 764.5,357.9 768.5,359.6 772.5,364.3 776.5,366.5 780.5,374.8 784.5,378.4 788.5,382.2 792.5,386.5 796.5,393.0 800.5,399.2 804.5,404.8 808.5,407.5 812.5,411.5 816.5,414.1 820.5,417.0 824.5,419.1 828.5,423.2 832.5,429.8 836.5,434.4 840.5,437.8 844.5,444.0 848.5,452.8 852.5,457.2 856.5,457.8 860.5,458.3 864.5,451.9 868.5,445.8 872.5,439.9 876.5,433.0 880.5,427.0 884.5,423.2 888.5,416.2 892.5,411.3 896.5,405.1 900.5,398.5 904.5,393.0 908.5,387.2 912.5,383.4 916.5,378.0 920.5,376.1 924.5,372.2 928.5,364.7 932.5,354.8 936.5,349.1 940.5,344.7 944.5,340.7 948.5,339.2 952.5,341.0 956.5,340.3 960.5,339.1 964.5,337.5 968.5,333.4 972.5,328.7 976.5,326.7 980.5,323.2 984.5,321.0 988.5,319.6 992.5,319.5 996.5,317.7 1000.5,317.0 1004.5,314.5 1008.5,313.2 1012.5,311.3 1016.5,310.7 1020.5,308.7 1024.5,305.9 1028.5,304.6 1032.5,305.5 1036.5,305.9 1040.5,308.5 1044.5,311.5 1048.5,312.1 1052.5,312.2 1056.5,314.4 1060.5,313.6 1064.5,314.6 1068.5,315.9 1072.5,316.2 1076.5,318.2 1080.5,321.6 1084.5,324.5 1088.5,327.5 1092.5,330.6 1096.5,332.7 1100.5,335.1 1104.5,336.3 1108.5,336.8 1112.5,335.6 1116.5,333.3 1120.5,330.2 1124.5,328.2 1128.5,326.3" fill="none" stroke="#ffff00" stroke-width="1"/>
<polyline points="4.5,316.6 8.5,314.8 12.5,313.7 16.5,317.3 20.5,320.8 24.5,319.3 28.5,322.3 32.5,326.2 36.5,332.7 40.5,341.8 44.5,350.1 48.5,354.6 52.5,358.1 56.5,362.6 60.5,363.5 64.5,373.2 68.5,381.3 72.5,389.0 76.5,390.4 80.5,396.5 84.5,398.5 88.5,401.4 92.5,399.2 96.5,393.5 100.5,386.2 104.5,382.5 108.5,377.4 112.5,370.5 116.5,363.5 120.5,353.8 124.5,344.6 128.5,332.6 132.5,327.3 136.5,322.9 140.5,316.2 144.5,308.4 148.5,304.2 152.5,301.1 156.5,300.1 160.5,298.5 164.5,295.9 168.5,293.0 172.5,289.7 176.5,286.6 180.5,284.3 184.5,277.4 188.5,269.1 192.5,258.4 196.5,252.0 200.5,245.2 204.5,238.7 208.5,232.9 212.5,229.4 216.5,227.9 220.5,227.2 224.5,228.5 228.5,230.0 232.5,230.0 236.5,229.7 240.5,231.9 244.5,237.3 248.5,242.8 252.5,246.8 256.5,250.3 260.5,250.3 264.5,250.5 268.5,244.6 272.5,240.1 276.5,235.7 280.5,229.5 284.5,224.8 288.5,222.7 292.5,220.3 296.5,219.1 300.5,215.9 304.5,215.2 308.5,215.0 312.5,220.0 316.5,227.8 320.5,234.0 324.5,244.4 328.5,253.7 332.5,262.7 336.5,272.3 340.5,280.1 344.5,284.8 348.5,289.9 352.5,291.9 356.5,294.7 360.5,297.2 364.5,296.5 368.5,291.0 372.5,286.0 376.5,283.1 380.5,279.6 384.5,273.4 388.5,267.6 392.5,262.6 396.5,258.0 400.5,253.2 404.5,245.5 408.5,238.5 412.5,227.8 416.5,217.2 420.5,207.7 424.5,195.1 428.5,182.6 432.5,169.6 436.5,157.6 440.5,147.0 444.5,136.7 448.5,126.6 452.5,117.4 456.5,107.9 460.5,101.6 464.5,97.9 468.5,96.7 472.5,93.4 476.5,90.3 480.5,93.2 484.5,98.1 488.5,104.0 492.5,112.4 496.5,118.9 500.5,125.9 504.5,131.5 508.5,135.4 512.5,140.6 516.5,146.1 520.5,149.5 524.5,154.6 528.5,164.9 532.5,176.6 536.5,184.9 540.5,190.1 544.5,192.2 548.5,190.5 552.5,191.4 556.5,196.1 560.5,202.6 564.5,214.0 568.5,225.2 572.5,234.4 576.5,246.5 580.5,260.3 584.5,268.3 588.5,275.8 592.5,281.8 596.5,287.4 600.5,295.7 604.5,301.4 608.5,306.6 612.5,307.9 616.5,307.2 620.5,307.0 624.5,314.0 628.5,324.7 632.5,334.4 636.5,343.4 640.5,352.9 644.5,360.2 648.5,370.3 652.5,382.3 656.5,391.0 660.5,398.2 664.5,406.5 668.5,414.5 672.5,424.3 676.5,424.9 680.5,418.5 684.5,407.8 688.5,396.7 692.5,386.8 696.5,377.0 700.5,372.7 704.5,367.5 708.5,362.1 712.5,356.9 716.5,357.4 720.5,359.1 724.5,361.0 728.5,362.1 732.5,367.8 736.5,371.6 740.5,377.5 744.5,379.1 748.5,375.4 752.5,373.7 756.5,369.2 760.5,366.0 764.5,360.0 768.5,358.8 772.5,361.4 776.5,361.4 780.5,368.8 784.5,373.2 788.5,378.1 792.5,385.1 796.5,392.7 800.5,404.8 804.5,420.3 808.5,430.9 812.5,442.3 816.5,450.4 820.5,460.3 824.5,466.8 828.5,467.4 832.5,470.3 836.5,463.2 840.5,458.3 844.5,458.7 848.5,459.4 852.5,455.1 856.5,449.2 860.5,441.6 864.5,435.5 868.5,424.8 872.5,416.8 876.5,409.1 880.5,404.6 884.5,404.8 888.5,399.8 892.5,396.3 896.5,393.3 900.5,382.2 904.5,370.7 908.5,361.7 912.5,355.8 916.5,349.9 920.5,349.4 924.5,348.0 928.5,345.9 932.5,341.9 936.5,338.2 940.5,331.5 944.5,328.3 948.5,327.2 952.5,328.6 956.5,329.3 960.5,328.3 964.5,330.0 968.5,329.9 972.5,325.9 976.5,322.2 980.5,319.8 984.5,316.7 988.5,317.9 992.5,317.2 996.5,315.3 1000.5,314.4 1004.5,312.4 1008.5,306.2 1012.5,302.4 1016.5,299.3 1020.5,295.1 1024.5,290.2 1028.5,292.2 1032.5,295.4 1036.5,302.6 1040.5,310.6 1044.5,316.1 1048.5,318.9 1052.5,321.6 1056.5,321.8 1060.5,320.9 1064.5,321.9 1068.5,323.6 1072.5,326.1 1076.5,331.5 1080.5,338.9 1084.5,344.2 1088.5,345.3 1092.5,343.3 1096.5,338.7 1100.5,334.7 1104.5,331.4 1108.5,327.0 1112.5,324.0 1116.5,324.9 1120.5,325.9 1124.5,329.0 1128.5,331.2" fill="none" stroke="#ff0000" stroke-width="1"/>
<polyline points="4.5,309.4 8.5,308.6 12.5,310.7 16.5,322.5 20.5,334.9 24.5,333.3 28.5,341.2 32.5,343.0 36.5,356.9 40.5,372.8 44.5,377.7 48.5,374.2 52.5,382.9 56.5,384.1 60.5,384.0 64.5,389.5 68.5,389.8 72.5,400.3 76.5,406.6 80.5,410.2 84.5,413.0 88.5,418.9 92.5,408.9 96.5,397.2 100.5,372.0 104.5,358.4 108.5,344.7 112.5,328.0 116.5,308.1 120.5,298.7 124.5,291.9 128.5,293.2 132.5,296.3 136.5,301.1 140.5,304.5 144.5,308.7 148.5,309.7 152.5,310.3 156.5,307.1 160.5,300.6 164.5,290.8 168.5,281.5 172.5,270.7 176.5,263.4 180.5,258.2 184.5,247.7 188.5,237.6 192.5,226.1 196.5,222.6 200.5,219.7 204.5,214.1 208.5,207.6 212.5,211.1 216.5,218.3 220.5,228.2 224.5,234.3 228.5,240.4 232.5,245.9 236.5,251.7 240.5,252.7 244.5,256.3 248.5,257.4 252.5,259.3 256.5,260.2 260.5,254.8 264.5,249.3 268.5,236.5 272.5,224.0 276.5,214.0 280.5,199.7 284.5,189.3 288.5,190.5 292.5,191.4 296.5,201.8 300.5,207.8 304.5,216.3 308.5,230.3 312.5,250.8 316.5,265.1 320.5,276.5 324.5,287.0 328.5,299.5 332.5,309.2 336.5,314.3 340.5,309.4 344.5,304.5 348.5,303.3 352.5,296.9 356.5,289.9 360.5,285.2 364.5,278.7 368.5,272.6 372.5,267.5 376.5,262.8 380.5,262.2 384.5,256.9 388.5,250.0 392.5,246.5 396.5,243.4 400.5,238.8 404.5,228.3 408.5,214.8 412.5,198.6 416.5,184.3 420.5,168.8 424.5,146.8 428.5,126.3 432.5,111.0 436.5,100.5 440.5,95.4 444.5,89.0 448.5,84.4 452.5,87.9 456.5,89.4 460.5,92.2 464.5,95.4 468.5,97.9 472.5,97.8 476.5,96.2 480.5,98.6 484.5,106.7 488.5,115.8 492.5,129.4 496.5,139.9 500.5,154.0 504.5,166.8 508.5,172.2 512.5,174.4 516.5,176.3 520.5,169.6 524.5,169.3 528.5,175.7 532.5,186.4 536.5,197.6 540.5,205.8 544.5,208.1 548.5,211.3 552.5,213.5 556.5,216.5 560.5,218.8 564.5,230.4 568.5,244.7 572.5,260.7 576.5,281.7 580.5,307.1 584.5,320.1 588.5,332.9 592.5,333.1 596.5,330.1 600.5,330.6 604.5,321.1 608.5,306.2 612.5,295.6 616.5,281.5 620.5,280.9 624.5,298.0 628.5,318.7 632.5,347.7 636.5,380.7 640.5,410.2 644.5,438.9 648.5,459.8 652.5,466.6 656.5,463.3 660.5,448.8 664.5,432.3 668.5,418.9 672.5,409.8 676.5,390.0 680.5,370.4 684.5,352.4 688.5,344.7 692.5,341.3 696.5,335.2 700.5,335.7 704.5,345.0 708.5,353.7 712.5,361.4 716.5,370.1 720.5,376.9 724.5,386.8 728.5,388.6 732.5,390.5 736.5,389.4 740.5,393.6 744.5,388.1 748.5,373.8 752.5,360.6 756.5,349.7 760.5,341.4 764.5,330.6 768.5,323.9 772.5,334.6 776.5,348.9 780.5,377.0 784.5,396.8 788.5,414.7 792.5,439.6 796.5,461.6 800.5,475.0 804.5,491.7 808.5,484.8 812.5,487.9 816.5,486.1 820.5,480.9 824.5,472.0 828.5,459.9 832.5,448.9 836.5,441.5 840.5,428.7 844.5,431.3 848.5,437.8 852.5,438.2 856.5,438.5 860.5,434.4 864.5,429.5 868.5,420.8 872.5,402.2 876.5,380.4 880.5,371.0 884.5,371.2 888.5,365.3 892.5,363.0 896.5,365.8 900.5,362.1 904.5,360.9 908.5,352.4 912.5,340.4 916.5,334.4 920.5,335.8 924.5,330.1 928.5,329.7 932.5,323.0 936.5,324.0 940.5,322.6 944.5,322.2 948.5,318.7 952.5,327.1 956.5,329.0 960.5,333.6 964.5,336.0 968.5,337.2 972.5,329.5 976.5,325.7 980.5,312.5 984.5,304.3 988.5,302.3 992.5,298.5 996.5,293.4 1000.5,299.4 1004.5,299.1 1008.5,300.0 1012.5,300.5 1016.5,296.3 1020.5,291.6 1024.5,287.1 1028.5,285.1 1032.5,291.8 1036.5,305.3 1040.5,320.7 1044.5,335.8 1048.5,346.2 1052.5,356.2 1056.5,358.6 1060.5,349.9 1064.5,338.6 1068.5,326.4 1072.5,316.4 1076.5,316.7 1080.5,321.6 1084.5,329.8 1088.5,340.6 1092.5,348.1 1096.5,350.9 1100.5,353.1 1104.5,346.1 1108.5,332.5 1112.5,318.3 1116.5,309.2 1120.5,303.8 1124.5,307.2 1128.5,309.4" fill="none" stroke="#0000cd" stroke-width="1"/>
</g>
<defs><clipPath id="cmacd"><rect x="4" y="565" width="1415" height="103"/></clipPath></defs><g clip-path="url(#cmacd)">
<rect x="4" y="611" width="1" height="14" fill="#c0c0c0"/>
<rect x="8" y="611" width="1" height="11" fill="#c0c0c0"/>
<rect x="12" y="611" width="1" height="10" fill="#c0c0c0"/>
<rect x="16" y="611" width="1" height="14" fill="#c0c0c0"/>
<rect x="20" y="611" width="1" height="16" fill="#c0c0c0"/>
<rect x="24" y="611" width="1" height="13" fill="#c0c0c0"/>
<rect x="28" y="611" width="1" height="15" fill="#c0c0c0"/>
<rect x="32" y="611" width="1" height="17" fill="#c0c0c0"/>
<rect x="36" y="611" width="1" height="19" fill="#c0c0c0"/>
<rect x="40" y="611" width="1" height="23" fill="#c0c0c0"/>
<rect x="44" y="611" width="1" height="25" fill="#c0c0c0"/>
<rect x="48" y="611" width="1" height="22" fill="#c0c0c0"/>
<rect x="52" y="611" width="1" height="20" fill="#c0c0c0"/>
<rect x="56" y="611" width="1" height="19" fill="#c0c0c0"/>
<rect x="60" y="611" width="1" height="19" fill="#c0c0c0"/>
<rect x="64" y="611" width="1" height="22" fill="#c0c0c0"/>
<rect x="68" y="611" width="1" height="23" fill="#c0c0c0"/>
<rect x="72" y="611" width="1" height="28" fill="#c0c0c0"/>
<rect x="76" y="611" width="1" height="26" fill="#c0c0c0"/>
<rect x="80" y="611" width="1" height="23" fill="#c0c0c0"/>
<rect x="84" y="611" width="1" height="21" fill="#c0c0c0"/>
<rect x="88" y="611" width="1" height="21" fill="#c0c0c0"/>
<rect x="92" y="611" width="1" height="17" fill="#c0c0c0"/>
<rect x="96" y="611" width="1" height="13" fill="#c0c0c0"/>
<rect x="100" y="611" width="1" height="6" fill="#c0c0c0"/>
<rect x="104" y="611" width="1" height="1" fill="#c0c0c0"/>
<rect x="108" y="606" width="1" height="6" fill="#c0c0c0"/>
<rect x="112" y="602" width="1" height="10" fill="#c0c0c0"/>
<rect x="116" y="598" width="1" height="14" fill="#c0c0c0"/>
<rect x="120" y="597" width="1" height="15" fill="#c0c0c0"/>
<rect x="124" y="596" width="1" height="16" fill="#c0c0c0"/>
<rect x="128" y="597" width="1" height="15" fill="#c0c0c0"/>
<rect x="132" y="598" width="1" height="14" fill="#c0c0c0"/>
<rect x="136" y="599" width="1" height="13" fill="#c0c0c0"/>
<rect x="140" y="599" width="1" height="13" fill="#c0c0c0"/>
<rect x="144" y="599" width="1" height="13" fill="#c0c0c0"/>
<rect x="148" y="599" width="1" height="13" fill="#c0c0c0"/>
<rect x="152" y="599" width="1" height="13" fill="#c0c0c0"/>
<rect x="156" y="598" width="1" height="14" fill="#c0c0c0"/>
<rect x="160" y="597" width="1" height="15" fill="#c0c0c0"/>
<rect x="164" y="595" width="1" height="17" fill="#c0c0c0"/>
<rect x="168" y="592" width="1" height="20" fill="#c0c0c0"/>
<rect x="172" y="590" width="1" height="22" fill="#c0c0c0"/>
<rect x="176" y="590" width="1" height="22" fill="#c0c0c0"/>
<rect x="180" y="590" width="1" height="22" fill="#c0c0c0"/>
<rect x="184" y="588" width="1" height="24" fill="#c0c0c0"/>
<rect x="188" y="586" width="1" height="26" fill="#c0c0c0"/>
<rect x="192" y="582" width="1" height="30" fill="#c0c0c0"/>
<rect x="196" y="582" width="1" height="30" fill="#c0c0c0"/>
<rect x="200" y="583" width="1" height="29" fill="#c0c0c0"/>
<rect x="204" y="584" width="1" height="28" fill="#c0c0c0"/>
<rect x="208" y="585" width="1" height="27" fill="#c0c0c0"/>
<rect x="212" y="588" width="1" height="24" fill="#c0c0c0"/>
<rect x="216" y="591" width="1" height="21" fill="#c0c0c0"/>
<rect x="220" y="593" width="1" height="19" fill="#c0c0c0"/>
<rect x="224" y="596" width="1" height="16" fill="#c0c0c0"/>
<rect x="228" y="598" width="1" height="14" fill="#c0c0c0"/>
<rect x="232" y="600" width="1" height="12" fill="#c0c0c0"/>
<rect x="236" y="601" width="1" height="11" fill="#c0c0c0"/>
<rect x="240" y="602" width="1" height="10" fill="#c0c0c0"/>
<rect x="244" y="605" width="1" height="7" fill="#c0c0c0"/>
<rect x="248" y="606" width="1" height="6" fill="#c0c0c0"/>
<rect x="252" y="607" width="1" height="5" fill="#c0c0c0"/>
<rect x="256" y="608" width="1" height="4" fill="#c0c0c0"/>
<rect x="260" y="606" width="1" height="6" fill="#c0c0c0"/>
<rect x="264" y="604" width="1" height="8" fill="#c0c0c0"/>
<rect x="268" y="599" width="1" height="13" fill="#c0c0c0"/>
<rect x="272" y="597" width="1" height="15" fill="#c0c0c0"/>
<rect x="276" y="595" width="1" height="17" fill="#c0c0c0"/>
<rect x="280" y="593" width="1" height="19" fill="#c0c0c0"/>
<rect x="284" y="593" width="1" height="19" fill="#c0c0c0"/>
<rect x="288" y="595" width="1" height="17" fill="#c0c0c0"/>
<rect x="292" y="597" width="1" height="15" fill="#c0c0c0"/>
<rect x="296" y="600" width="1" height="12" fill="#c0c0c0"/>
<rect x="300" y="602" width="1" height="10" fill="#c0c0c0"/>
<rect x="304" y="604" width="1" height="8" fill="#c0c0c0"/>
<rect x="308" y="608" width="1" height="4" fill="#c0c0c0"/>
<rect x="312" y="611" width="1" height="5" fill="#c0c0c0"/>
<rect x="316" y="611" width="1" height="10" fill="#c0c0c0"/>
<rect x="320" y="611" width="1" height="12" fill="#c0c0c0"/>
<rect x="324" y="611" width="1" height="14" fill="#c0c0c0"/>
<rect x="328" y="611" width="1" height="17" fill="#c0c0c0"/>
<rect x="332" y="611" width="1" height="18" fill="#c0c0c0"/>
<rect x="336" y="611" width="1" height="18" fill="#c0c0c0"/>
<rect x="340" y="611" width="1" height="17" fill="#c0c0c0"/>
<rect x="344" y="611" width="1" height="16" fill="#c0c0c0"/>
<rect x="348" y="611" width="1" height="16" fill="#c0c0c0"/>
<rect x="352" y="611" width="1" height="13" fill="#c0c0c0"/>
<rect x="356" y="611" width="1" height="11" fill="#c0c0c0"/>
<rect x="360" y="611" width="1" height="10" fill="#c0c0c0"/>
<rect x="364" y="611" width="1" height="7" fill="#c0c0c0"/>
<rect x="368" y="611" width="1" height="5" fill="#c0c0c0"/>
<rect x="372" y="611" width="1" height="4" fill="#c0c0c0"/>
<rect x="376" y="611" width="1" height="3" fill="#c0c0c0"/>
<rect x="380" y="611" width="1" height="2" fill="#c0c0c0"/>
<rect x="384" y="610" width="1" height="2" fill="#c0c0c0"/>
<rect x="388" y="607" width="1" height="5" fill="#c0c0c0"/>
<rect x="392" y="606" width="1" height="6" fill="#c0c0c0"/>
<rect x="396" y="605" width="1" height="7" fill="#c0c0c0"/>
<rect x="400" y="603" width="1" height="9" fill="#c0c0c0"/>
<rect x="404" y="600" width="1" height="12" fill="#c0c0c0"/>
<rect x="408" y="596" width="1" height="16" fill="#c0c0c0"/>
<rect x="412" y="590" width="1" height="22" fill="#c0c0c0"/>
<rect x="416" y="586" width="1" height="26" fill="#c0c0c0"/>
<rect x="420" y="583" width="1" height="29" fill="#c0c0c0"/>
<rect x="424" y="578" width="1" height="34" fill="#c0c0c0"/>
<rect x="428" y="574" width="1" height="38" fill="#c0c0c0"/>
<rect x="432" y="572" width="1" height="40" fill="#c0c0c0"/>
<rect x="436" y="571" width="1" height="41" fill="#c0c0c0"/>
<rect x="440" y="571" width="1" height="41" fill="#c0c0c0"/>
<rect x="444" y="571" width="1" height="41" fill="#c0c0c0"/>
<rect x="448" y="572" width="1" height="40" fill="#c0c0c0"/>
<rect x="452" y="574" width="1" height="38" fill="#c0c0c0"/>
<rect x="456" y="575" width="1" height="37" fill="#c0c0c0"/>
<rect x="460" y="577" width="1" height="35" fill="#c0c0c0"/>
<rect x="464" y="580" width="1" height="32" fill="#c0c0c0"/>
<rect x="468" y="582" width="1" height="30" fill="#c0c0c0"/>
<rect x="472" y="582" width="1" height="30" fill="#c0c0c0"/>
<rect x="476" y="582" width="1" height="30" fill="#c0c0c0"/>
<rect x="480" y="586" width="1" height="26" fill="#c0c0c0"/>
<rect x="484" y="591" width="1" height="21" fill="#c0c0c0"/>
<rect x="488" y="596" width="1" height="16" fill="#c0c0c0"/>
<rect x="492" y="603" width="1" height="9" fill="#c0c0c0"/>
<rect x="496" y="606" width="1" height="6" fill="#c0c0c0"/>
<rect x="500" y="610" width="1" height="2" fill="#c0c0c0"/>
<rect x="504" y="611" width="1" height="1" fill="#c0c0c0"/>
<rect x="508" y="611" width="1" height="2" fill="#c0c0c0"/>
<rect x="512" y="611" width="1" height="3" fill="#c0c0c0"/>
<rect x="516" y="611" width="1" height="4" fill="#c0c0c0"/>
<rect x="520" y="611" width="1" height="4" fill="#c0c0c0"/>
<rect x="524" y="611" width="1" height="5" fill="#c0c0c0"/>
<rect x="528" y="611" width="1" height="9" fill="#c0c0c0"/>
<rect x="532" y="611" width="1" height="14" fill="#c0c0c0"/>
<rect x="536" y="611" width="1" height="16" fill="#c0c0c0"/>
<rect x="540" y="611" width="1" height="17" fill="#c0c0c0"/>
<rect x="544" y="611" width="1" height="16" fill="#c0c0c0"/>
<rect x="548" y="611" width="1" height="14" fill="#c0c0c0"/>
<rect x="552" y="611" width="1" height="13" fill="#c0c0c0"/>
<rect x="556" y="611" width="1" height="16" fill="#c0c0c0"/>
<rect x="560" y="611" width="1" height="19" fill="#c0c0c0"/>
<rect x="564" y="611" width="1" height="25" fill="#c0c0c0"/>
<rect x="568" y="611" width="1" height="29" fill="#c0c0c0"/>
<rect x="572" y="611" width="1" height="31" fill="#c0c0c0"/>
<rect x="576" y="611" width="1" height="34" fill="#c0c0c0"/>
<rect x="580" y="611" width="1" height="39" fill="#c0c0c0"/>
<rect x="584" y="611" width="1" height="40" fill="#c0c0c0"/>
<rect x="588" y="611" width="1" height="41" fill="#c0c0c0"/>
<rect x="592" y="611" width="1" height="40" fill="#c0c0c0"/>
<rect x="596" y="611" width="1" height="37" fill="#c0c0c0"/>
<rect x="600" y="611" width="1" height="35" fill="#c0c0c0"/>
<rect x="604" y="611" width="1" height="30" fill="#c0c0c0"/>
<rect x="608" y="611" width="1" height="25" fill="#c0c0c0"/>
<rect x="612" y="611" width="1" height="22" fill="#c0c0c0"/>
<rect x="616" y="611" width="1" height="18" fill="#c0c0c0"/>
<rect x="620" y="611" width="1" height="19" fill="#c0c0c0"/>
<rect x="624" y="611" width="1" height="26" fill="#c0c0c0"/>
<rect x="628" y="611" width="1" height="34" fill="#c0c0c0"/>
<rect x="632" y="611" width="1" height="41" fill="#c0c0c0"/>
<rect x="636" y="611" width="1" height="48" fill="#c0c0c0"/>
<rect x="640" y="611" width="1" height="51" fill="#c0c0c0"/>
<rect x="644" y="611" width="1" height="51" fill="#c0c0c0"/>
<rect x="648" y="611" width="1" height="52" fill="#c0c0c0"/>
<rect x="652" y="611" width="1" height="52" fill="#c0c0c0"/>
<rect x="656" y="611" width="1" height="49" fill="#c0c0c0"/>
<rect x="660" y="611" width="1" height="42" fill="#c0c0c0"/>
<rect x="664" y="611" width="1" height="37" fill="#c0c0c0"/>
<rect x="668" y="611" width="1" height="33" fill="#c0c0c0"/>
<rect x="672" y="611" width="1" height="29" fill="#c0c0c0"/>
<rect x="676" y="611" width="1" height="22" fill="#c0c0c0"/>
<rect x="680" y="611" width="1" height="17" fill="#c0c0c0"/>
<rect x="684" y="611" width="1" height="10" fill="#c0c0c0"/>
<rect x="688" y="611" width="1" height="6" fill="#c0c0c0"/>
<rect x="692" y="611" width="1" height="5" fill="#c0c0c0"/>
<rect x="696" y="611" width="1" height="4" fill="#c0c0c0"/>
<rect x="700" y="611" width="1" height="6" fill="#c0c0c0"/>
<rect x="704" y="611" width="1" height="7" fill="#c0c0c0"/>
<rect x="708" y="611" width="1" height="9" fill="#c0c0c0"/>
<rect x="712" y="611" width="1" height="7" fill="#c0c0c0"/>
<rect x="716" y="611" width="1" height="7" fill="#c0c0c0"/>
<rect x="720" y="611" width="1" height="9" fill="#c0c0c0"/>
<rect x="724" y="611" width="1" height="11" fill="#c0c0c0"/>
<rect x="728" y="611" width="1" height="12" fill="#c0c0c0"/>
<rect x="732" y="611" width="1" height="12" fill="#c0c0c0"/>
<rect x="736" y="611" width="1" height="11" fill="#c0c0c0"/>
<rect x="740" y="611" width="1" height="11" fill="#c0c0c0"/>
<rect x="744" y="611" width="1" height="6" fill="#c0c0c0"/>
<rect x="748" y="611" width="1" height="1" fill="#c0c0c0"/>
<rect x="752" y="608" width="1" height="4" fill="#c0c0c0"/>
<rect x="756" y="606" width="1" height="6" fill="#c0c0c0"/>
<rect x="760" y="606" width="1" height="6" fill="#c0c0c0"/>
<rect x="764" y="603" width="1" height="9" fill="#c0c0c0"/>
<rect x="768" y="603" width="1" height="9" fill="#c0c0c0"/>
<rect x="772" y="608" width="1" height="4" fill="#c0c0c0"/>
<rect x="776" y="611" width="1" height="2" fill="#c0c0c0"/>
<rect x="780" y="611" width="1" height="12" fill="#c0c0c0"/>
<rect x="784" y="611" width="1" height="16" fill="#c0c0c0"/>
<rect x="788" y="611" width="1" height="20" fill="#c0c0c0"/>
<rect x="792" y="611" width="1" height="23" fill="#c0c0c0"/>
<rect x="796" y="611" width="1" height="27" fill="#c0c0c0"/>
<rect x="800" y="611" width="1" height="30" fill="#c0c0c0"/>
<rect x="804" y="611" width="1" height="33" fill="#c0c0c0"/>
<rect x="808" y="611" width="1" height="31" fill="#c0c0c0"/>
<rect x="812" y="611" width="1" height="31" fill="#c0c0c0"/>
<rect x="816" y="611" width="1" height="29" fill="#c0c0c0"/>
<rect x="820" y="611" width="1" height="25" fill="#c0c0c0"/>
<rect x="824" y="611" width="1" height="22" fill="#c0c0c0"/>
<rect x="828" y="611" width="1" height="18" fill="#c0c0c0"/>
<rect x="832" y="611" width="1" height="17" fill="#c0c0c0"/>
<rect x="836" y="611" width="1" height="13" fill="#c0c0c0"/>
<rect x="840" y="611" width="1" height="9" fill="#c0c0c0"/>
<rect x="844" y="611" width="1" height="11" fill="#c0c0c0"/>
<rect x="848" y="611" width="1" height="14" fill="#c0c0c0"/>
<rect x="852" y="611" width="1" height="12" fill="#c0c0c0"/>
<rect x="856" y="611" width="1" height="9" fill="#c0c0c0"/>
<rect x="860" y="611" width="1" height="7" fill="#c0c0c0"/>
<rect x="864" y="611" width="1" height="2" fill="#c0c0c0"/>
<rect x="868" y="606" width="1" height="6" fill="#c0c0c0"/>
<rect x="872" y="602" width="1" height="10" fill="#c0c0c0"/>
<rect x="876" y="598" width="1" height="14" fill="#c0c0c0"/>
<rect x="880" y="597" width="1" height="15" fill="#c0c0c0"/>
<rect x="884" y="600" width="1" height="12" fill="#c0c0c0"/>
<rect x="888" y="600" width="1" height="12" fill="#c0c0c0"/>
<rect x="892" y="598" width="1" height="14" fill="#c0c0c0"/>
<rect x="896" y="597" width="1" height="15" fill="#c0c0c0"/>
<rect x="900" y="594" width="1" height="18" fill="#c0c0c0"/>
<rect x="904" y="592" width="1" height="20" fill="#c0c0c0"/>
<rect x="908" y="590" width="1" height="22" fill="#c0c0c0"/>
<rect x="912" y="590" width="1" height="22" fill="#c0c0c0"/>
<rect x="916" y="590" width="1" height="22" fill="#c0c0c0"/>
<rect x="920" y="593" width="1" height="19" fill="#c0c0c0"/>
<rect x="924" y="592" width="1" height="20" fill="#c0c0c0"/>
<rect x="928" y="591" width="1" height="21" fill="#c0c0c0"/>
<rect x="932" y="589" width="1" height="23" fill="#c0c0c0"/>
<rect x="936" y="589" width="1" height="23" fill="#c0c0c0"/>
<rect x="940" y="591" width="1" height="21" fill="#c0c0c0"/>
<rect x="944" y="592" width="1" height="20" fill="#c0c0c0"/>
<rect x="948" y="594" width="1" height="18" fill="#c0c0c0"/>
<rect x="952" y="598" width="1" height="14" fill="#c0c0c0"/>
<rect x="956" y="599" width="1" height="13" fill="#c0c0c0"/>
<rect x="960" y="598" width="1" height="14" fill="#c0c0c0"/>
<rect x="964" y="599" width="1" height="13" fill="#c0c0c0"/>
<rect x="968" y="600" width="1" height="12" fill="#c0c0c0"/>
<rect x="972" y="597" width="1" height="15" fill="#c0c0c0"/>
<rect x="976" y="597" width="1" height="15" fill="#c0c0c0"/>
<rect x="980" y="596" width="1" height="16" fill="#c0c0c0"/>
<rect x="984" y="594" width="1" height="18" fill="#c0c0c0"/>
<rect x="988" y="594" width="1" height="18" fill="#c0c0c0"/>
<rect x="992" y="595" width="1" height="17" fill="#c0c0c0"/>
<rect x="996" y="596" width="1" height="16" fill="#c0c0c0"/>
<rect x="1000" y="598" width="1" height="14" fill="#c0c0c0"/>
<rect x="1004" y="599" width="1" height="13" fill="#c0c0c0"/>
<rect x="1008" y="599" width="1" height="13" fill="#c0c0c0"/>
<rect x="1012" y="598" width="1" height="14" fill="#c0c0c0"/>
<rect x="1016" y="596" width="1" height="16" fill="#c0c0c0"/>
<rect x="1020" y="596" width="1" height="16" fill="#c0c0c0"/>
<rect x="1024" y="595" width="1" height="17" fill="#c0c0c0"/>
<rect x="1028" y="597" width="1" height="15" fill="#c0c0c0"/>
<rect x="1032" y="603" width="1" height="9" fill="#c0c0c0"/>
<rect x="1036" y="609" width="1" height="3" fill="#c0c0c0"/>
<rect x="1040" y="611" width="1" height="4" fill="#c0c0c0"/>
<rect x="1044" y="611" width="1" height="7" fill="#c0c0c0"/>
<rect x="1048" y="611" width="1" height="8" fill="#c0c0c0"/>
<rect x="1052" y="611" width="1" height="7" fill="#c0c0c0"/>
<rect x="1056" y="611" width="1" height="6" fill="#c0c0c0"/>
<rect x="1060" y="611" width="1" height="3" fill="#c0c0c0"/>
<rect x="1064" y="611" width="1" height="1" fill="#c0c0c0"/>
<rect x="1068" y="610" width="1" height="2" fill="#c0c0c0"/>
<rect x="1072" y="609" width="1" height="3" fill="#c0c0c0"/>
<rect x="1076" y="611" width="1" height="1" fill="#c0c0c0"/>
<rect x="1080" y="611" width="1" height="4" fill="#c0c0c0"/>
<rect x="1084" y="611" width="1" height="7" fill="#c0c0c0"/>
<rect x="1088" y="611" width="1" height="9" fill="#c0c0c0"/>
<rect x="1092" y="611" width="1" height="10" fill="#c0c0c0"/>
<rect x="1096" y="611" width="1" height="7" fill="#c0c0c0"/>
<rect x="1100" y="611" width="1" height="5" fill="#c0c0c0"/>
<rect x="1104" y="611" width="1" height="2" fill="#c0c0c0"/>
<rect x="1108" y="609" width="1" height="3" fill="#c0c0c0"/>
<rect x="1112" y="606" width="1" height="6" fill="#c0c0c0"/>
<rect x="1116" y="606" width="1" height="6" fill="#c0c0c0"/>
<rect x="1120" y="606" width="1" height="6" fill="#c0c0c0"/>
<rect x="1124" y="608" width="1" height="4" fill="#c0c0c0"/>
<rect x="1128" y="610" width="1" height="2" fill="#c0c0c0"/>
<polyline points="4.5,620.7 8.5,620.9 12.5,620.9 16.5,621.4 20.5,622.1 24.5,622.4 28.5,623.0 32.5,623.8 36.5,624.8 40.5,625.8 44.5,627.3 48.5,628.6 52.5,629.3 56.5,629.6 60.5,630.2 64.5,631.0 68.5,631.8 72.5,632.8 76.5,633.1 80.5,632.9 84.5,632.9 88.5,633.1 92.5,632.9 96.5,632.2 100.5,630.5 104.5,628.0 108.5,624.4 112.5,620.6 116.5,616.7 120.5,612.9 124.5,608.9 128.5,605.5 132.5,602.7 136.5,600.8 140.5,599.4 144.5,598.6 148.5,598.4 152.5,598.4 156.5,598.6 160.5,598.7 164.5,598.5 168.5,597.9 172.5,596.9 176.5,595.9 180.5,594.9 184.5,593.7 188.5,592.3 192.5,590.5 196.5,588.9 200.5,587.6 204.5,586.6 208.5,586.1 212.5,585.8 216.5,585.9 220.5,586.4 224.5,587.5 228.5,589.2 232.5,591.1 236.5,593.1 240.5,595.2 244.5,597.5 248.5,599.5 252.5,601.4 256.5,603.0 260.5,604.1 264.5,604.8 268.5,604.7 272.5,604.3 276.5,603.5 280.5,602.1 284.5,600.7 288.5,599.4 292.5,598.2 296.5,597.5 300.5,597.3 304.5,597.9 308.5,599.1 312.5,601.2 316.5,604.2 320.5,607.5 324.5,610.7 328.5,614.0 332.5,617.1 336.5,620.0 340.5,622.6 344.5,624.7 348.5,625.8 352.5,626.1 356.5,626.0 360.5,625.5 364.5,624.4 368.5,623.1 372.5,621.5 376.5,619.9 380.5,618.3 384.5,616.5 388.5,614.8 392.5,613.2 396.5,611.5 400.5,610.0 404.5,608.3 408.5,606.3 412.5,603.8 416.5,600.9 420.5,598.0 424.5,594.7 428.5,591.2 432.5,587.5 436.5,583.9 440.5,580.7 444.5,577.9 448.5,575.8 452.5,574.5 456.5,573.6 460.5,573.4 464.5,574.0 468.5,575.1 472.5,576.3 476.5,577.6 480.5,579.2 484.5,581.3 488.5,583.8 492.5,586.9 496.5,590.1 500.5,593.5 504.5,596.8 508.5,600.1 512.5,603.5 516.5,606.6 520.5,609.2 524.5,611.4 528.5,613.2 532.5,615.1 536.5,617.0 540.5,618.8 544.5,620.3 548.5,621.6 552.5,622.6 556.5,623.9 560.5,625.4 564.5,627.1 568.5,628.9 572.5,630.5 576.5,632.4 580.5,635.0 584.5,637.9 588.5,641.1 592.5,643.7 596.5,645.8 600.5,646.9 604.5,646.9 608.5,646.3 612.5,644.9 616.5,642.5 620.5,640.1 624.5,638.5 628.5,637.8 632.5,638.3 636.5,639.7 640.5,642.1 644.5,645.0 648.5,648.4 652.5,652.2 656.5,655.6 660.5,657.4 664.5,657.7 668.5,656.7 672.5,654.6 676.5,651.4 680.5,647.5 684.5,642.9 688.5,637.8 692.5,632.9 696.5,628.6 700.5,625.1 704.5,622.3 708.5,620.0 712.5,618.4 716.5,617.3 720.5,617.2 724.5,617.7 728.5,618.4 732.5,619.4 736.5,620.0 740.5,620.3 744.5,620.1 748.5,619.4 752.5,618.3 756.5,616.8 760.5,615.2 764.5,613.1 768.5,611.0 772.5,609.5 776.5,608.5 780.5,609.1 784.5,610.8 788.5,613.3 792.5,616.3 796.5,619.8 800.5,623.9 804.5,628.3 808.5,632.0 812.5,635.2 816.5,637.1 820.5,638.2 824.5,638.4 828.5,637.8 832.5,636.6 836.5,634.8 840.5,632.1 844.5,629.9 848.5,628.0 852.5,626.1 856.5,624.3 860.5,622.6 864.5,620.8 868.5,618.5 872.5,616.2 876.5,613.8 880.5,611.2 884.5,608.6 888.5,606.1 892.5,603.8 896.5,601.7 900.5,599.7 904.5,598.2 908.5,596.9 912.5,596.0 916.5,595.3 920.5,594.5 924.5,593.6 928.5,592.8 932.5,591.9 936.5,591.3 940.5,591.1 944.5,591.3 948.5,591.8 952.5,592.7 956.5,593.3 960.5,594.0 964.5,594.8 968.5,596.1 972.5,597.0 976.5,597.7 980.5,598.1 984.5,598.1 988.5,597.6 992.5,597.2 996.5,597.0 1000.5,596.9 1004.5,596.8 1008.5,597.0 1012.5,597.0 1016.5,597.1 1020.5,597.3 1024.5,597.4 1028.5,597.7 1032.5,598.5 1036.5,599.7 1040.5,601.4 1044.5,603.4 1048.5,605.6 1052.5,608.0 1056.5,610.2 1060.5,612.1 1064.5,613.7 1068.5,614.4 1072.5,614.4 1076.5,614.0 1080.5,613.7 1084.5,613.7 1088.5,613.9 1092.5,614.3 1096.5,614.8 1100.5,615.2 1104.5,615.5 1108.5,615.5 1112.5,614.9 1116.5,613.9 1120.5,612.7 1124.5,611.5 1128.5,610.4" fill="none" stroke="#ff0000" stroke-width="1" stroke-dasharray="3 3"/>
</g>
<defs><clipPath id="crsi"><rect x="4" y="671" width="1415" height="129"/></clipPath></defs><g clip-path="url(#crsi)">
<line x1="5" y1="710.5" x2="1418" y2="710.5" stroke="#c0c0c0" stroke-width="1" stroke-dasharray="3 3"/>
<line x1="5" y1="761.5" x2="1418" y2="761.5" stroke="#c0c0c0" stroke-width="1" stroke-dasharray="3 3"/>
<polyline points="4.5,753.0 8.5,735.5 12.5,737.7 16.5,749.8 20.5,749.1 24.5,734.7 28.5,744.6 32.5,746.5 36.5,748.9 40.5,752.2 44.5,749.9 48.5,737.9 52.5,740.5 56.5,742.0 60.5,742.6 64.5,751.3 68.5,748.4 72.5,756.5 76.5,739.8 80.5,739.3 84.5,739.9 88.5,743.7 92.5,734.6 96.5,730.9 100.5,726.4 104.5,725.0 108.5,724.5 112.5,722.1 116.5,722.7 120.5,727.2 124.5,726.0 128.5,731.5 132.5,732.1 136.5,734.0 140.5,728.5 144.5,730.5 148.5,729.9 152.5,727.8 156.5,727.0 160.5,722.6 164.5,719.3 168.5,715.0 172.5,714.6 176.5,722.2 180.5,724.3 184.5,715.8 188.5,712.8 192.5,708.8 196.5,720.1 200.5,720.7 204.5,721.4 208.5,721.4 212.5,730.9 216.5,734.0 220.5,732.1 224.5,734.3 228.5,735.0 232.5,734.3 236.5,735.1 240.5,733.0 244.5,743.4 248.5,734.6 252.5,738.6 256.5,737.1 260.5,723.0 264.5,723.6 268.5,711.7 272.5,722.2 276.5,720.9 280.5,717.2 284.5,724.8 288.5,734.5 292.5,734.3 296.5,737.0 300.5,737.1 304.5,740.1 308.5,745.5 312.5,758.8 316.5,756.2 320.5,749.6 324.5,750.2 328.5,753.1 332.5,750.0 336.5,746.2 340.5,745.5 344.5,742.4 348.5,744.1 352.5,733.1 356.5,736.5 360.5,738.3 364.5,731.2 368.5,731.5 372.5,730.8 376.5,734.1 380.5,732.3 384.5,725.2 388.5,723.7 392.5,723.8 396.5,725.4 400.5,721.4 404.5,712.3 408.5,707.0 412.5,700.6 416.5,704.4 420.5,703.0 424.5,697.6 428.5,697.4 432.5,698.7 436.5,702.9 440.5,702.5 444.5,702.2 448.5,704.5 452.5,713.1 456.5,709.5 460.5,715.1 464.5,721.0 468.5,718.8 472.5,713.4 476.5,711.9 480.5,730.8 484.5,739.2 488.5,744.1 492.5,754.1 496.5,744.8 500.5,745.9 504.5,741.1 508.5,738.6 512.5,739.3 516.5,743.5 520.5,737.9 524.5,742.7 528.5,754.3 532.5,756.9 536.5,755.2 540.5,748.9 544.5,740.7 548.5,737.7 552.5,740.1 556.5,752.6 560.5,754.3 564.5,763.3 568.5,763.5 572.5,758.8 576.5,762.2 580.5,767.2 584.5,758.3 588.5,759.4 592.5,751.5 596.5,745.6 600.5,747.7 604.5,736.6 608.5,736.9 612.5,737.5 616.5,733.2 620.5,747.1 624.5,760.4 628.5,763.9 632.5,765.0 636.5,767.6 640.5,762.0 644.5,756.6 648.5,758.1 652.5,758.5 656.5,750.0 660.5,737.0 664.5,739.6 668.5,739.3 672.5,740.6 676.5,729.5 680.5,730.3 684.5,726.3 688.5,727.6 692.5,737.0 696.5,733.2 700.5,742.5 704.5,742.6 708.5,742.5 712.5,736.1 716.5,738.5 720.5,744.6 724.5,744.7 728.5,744.0 732.5,744.3 736.5,738.5 740.5,740.0 744.5,727.4 748.5,722.4 752.5,724.5 756.5,728.1 760.5,733.0 764.5,725.0 768.5,733.4 772.5,745.6 776.5,745.0 780.5,758.6 784.5,749.8 788.5,750.6 792.5,751.6 796.5,753.6 800.5,754.4 804.5,757.0 808.5,743.8 812.5,747.4 816.5,742.0 820.5,739.2 824.5,737.1 828.5,734.1 832.5,739.4 836.5,732.8 840.5,730.5 844.5,744.3 848.5,746.2 852.5,736.5 856.5,733.8 860.5,733.3 864.5,726.9 868.5,721.5 872.5,723.7 876.5,722.3 880.5,729.2 884.5,738.3 888.5,731.0 892.5,728.7 896.5,728.1 900.5,723.1 904.5,724.5 908.5,721.8 912.5,727.8 916.5,727.1 920.5,734.8 924.5,725.8 928.5,726.3 932.5,720.8 936.5,728.5 940.5,730.5 944.5,731.0 948.5,734.1 952.5,740.1 956.5,731.7 960.5,728.5 964.5,733.0 968.5,733.2 972.5,723.0 976.5,731.7 980.5,726.2 984.5,724.9 988.5,730.0 992.5,731.8 996.5,730.4 1000.5,734.3 1004.5,733.8 1008.5,728.4 1012.5,726.3 1016.5,724.9 1020.5,726.2 1024.5,724.8 1028.5,734.6 1032.5,747.0 1036.5,750.3 1040.5,750.8 1044.5,748.1 1048.5,740.6 1052.5,738.2 1056.5,734.1 1060.5,729.9 1064.5,730.4 1068.5,729.5 1072.5,731.1 1076.5,743.0 1080.5,747.7 1084.5,749.0 1088.5,749.1 1092.5,741.8 1096.5,732.0 1100.5,732.3 1104.5,727.4 1108.5,722.0 1112.5,722.5 1116.5,733.7 1120.5,734.6 1124.5,741.4 1128.5,739.1" fill="none" stroke="#1e90ff" stroke-width="1" shape-rendering="auto"/>
</g>
<rect x="4" y="44" width="1415" height="3" fill="#ff0000"/>
<rect x="4" y="148" width="1415" height="3" fill="#ff0000"/>
<rect x="4" y="270" width="1415" height="3" fill="#00ff00"/>
<rect x="4" y="425" width="1415" height="3" fill="#0000ff"/>
<rect x="4" y="512" width="1415" height="3" fill="#0000ff"/>
<rect x="3" y="22" width="1417" height="1" fill="#000000"/>
<rect x="3" y="22" width="1" height="779" fill="#000000"/>
<rect x="1419" y="22" width="1" height="541" fill="#000000"/>
<rect x="1419" y="564" width="1" height="105" fill="#000000"/>
<rect x="1419" y="670" width="1" height="131" fill="#000000"/>
<rect x="3" y="562" width="1417" height="1" fill="#000000"/>
<rect x="3" y="564" width="1417" height="1" fill="#000000"/>
<rect x="3" y="668" width="1417" height="1" fill="#000000"/>
<rect x="3" y="670" width="1417" height="1" fill="#000000"/>
<rect x="3" y="800" width="1417" height="1" fill="#000000"/>
<rect x="1130" y="23" width="9" height="1" fill="#c0c0c0"/>
<rect x="1131" y="24" width="7" height="1" fill="#c0c0c0"/>
<rect x="1132" y="25" width="5" height="1" fill="#c0c0c0"/>
<rect x="1133" y="26" width="3" height="1" fill="#c0c0c0"/>
<rect x="1134" y="27" width="1" height="1" fill="#c0c0c0"/>
<rect x="1420" y="31" width="2" height="1" fill="#000000"/>
<rect x="1420" y="64" width="2" height="1" fill="#000000"/>
<rect x="1420" y="97" width="2" height="1" fill="#000000"/>
<rect x="1420" y="130" width="2" height="1" fill="#000000"/>
<rect x="1420" y="163" width="2" height="1" fill="#000000"/>
<rect x="1420" y="196" width="2" height="1" fill="#000000"/>
<rect x="1420" y="229" width="2" height="1" fill="#000000"/>
<rect x="1420" y="262" width="2" height="1" fill="#000000"/>
<rect x="1420" y="295" width="2" height="1" fill="#000000"/>
<rect x="1420" y="328" width="2" height="1" fill="#000000"/>
<rect x="1420" y="361" width="2" height="1" fill="#000000"/>
<rect x="1420" y="394" width="2" height="1" fill="#000000"/>
<rect x="1420" y="427" width="2" height="1" fill="#000000"/>
<rect x="1420" y="460" width="2" height="1" fill="#000000"/>
<rect x="1420" y="493" width="2" height="1" fill="#000000"/>
<rect x="1420" y="526" width="2" height="1" fill="#000000"/>
<rect x="1420" y="559" width="2" height="1" fill="#000000"/>
<rect x="1420" y="611" width="1" height="1" fill="#000000"/>
<rect x="1420" y="565" width="1" height="1" fill="#000000"/>
<rect x="1420" y="667" width="1" height="1" fill="#000000"/>
<rect x="1420" y="672" width="1" height="1" fill="#000000"/>
<rect x="1420" y="799" width="1" height="1" fill="#000000"/>
<rect x="4" y="801" width="1" height="3" fill="#000000"/>
<rect x="68" y="801" width="1" height="3" fill="#000000"/>
<rect x="132" y="801" width="1" height="3" fill="#000000"/>
<rect x="196" y="801" width="1" height="3" fill="#000000"/>
<rect x="260" y="801" width="1" height="3" fill="#000000"/>
<rect x="324" y="801" width="1" height="3" fill="#000000"/>
<rect x="388" y="801" width="1" height="3" fill="#000000"/>
<rect x="452" y="801" width="1" height="3" fill="#000000"/>
<rect x="516" y="801" width="1" height="3" fill="#000000"/>
<rect x="580" y="801" width="1" height="3" fill="#000000"/>
<rect x="644" y="801" width="1" height="3" fill="#000000"/>
<rect x="708" y="801" width="1" height="3" fill="#000000"/>
<rect x="772" y="801" width="1" height="3" fill="#000000"/>
<rect x="836" y="801" width="1" height="3" fill="#000000"/>
<rect x="900" y="801" width="1" height="3" fill="#000000"/>
<rect x="964" y="801" width="1" height="3" fill="#000000"/>
<rect x="1028" y="801" width="1" height="3" fill="#000000"/>
<rect x="1092" y="801" width="1" height="3" fill="#000000"/>
<rect x="0" y="821" width="1463" height="1" fill="#e3e3e3"/>
<rect x="0" y="822" width="1463" height="1" fill="#f0f0f0"/>
<rect x="0" y="823" width="1463" height="1" fill="#000"/>
<rect x="0" y="824" width="1463" height="19" fill="#f0f0f0"/>
<rect x="0" y="843" width="1463" height="1" fill="#ffffff"/>
<rect x="0" y="824" width="1" height="18" fill="#696969"/>
<rect x="222" y="823" width="106" height="18" fill="#ffffff"/>
<rect x="221" y="823" width="1" height="19" fill="#000"/>
<rect x="328" y="823" width="1" height="19" fill="#000"/>
<rect x="221" y="841" width="108" height="1" fill="#000"/>
<rect x="329" y="825" width="1" height="18" fill="#808080"/>
<rect x="223" y="842" width="107" height="1" fill="#808080"/>
<rect x="113" y="826" width="1" height="14" fill="#7a7a7a"/>
<rect x="436" y="826" width="1" height="14" fill="#7a7a7a"/>
<rect x="548" y="826" width="1" height="14" fill="#7a7a7a"/>
<rect x="668" y="826" width="1" height="14" fill="#7a7a7a"/>
<rect x="793" y="826" width="1" height="14" fill="#7a7a7a"/>
<rect x="889" y="826" width="1" height="14" fill="#7a7a7a"/>
<rect x="968" y="826" width="1" height="14" fill="#7a7a7a"/>
<rect x="1074" y="826" width="1" height="14" fill="#7a7a7a"/>
<rect x="1165" y="826" width="1" height="14" fill="#7a7a7a"/>
<rect x="1245" y="826" width="1" height="14" fill="#7a7a7a"/>
<polygon points="1438.5,829 1438.5,836 1434.5,832.5" fill="#a0a0a0" shape-rendering="auto"/>
<polygon points="1453.5,829 1453.5,836 1457.5,832.5" fill="#a0a0a0" shape-rendering="auto"/>
<polygon points="7,33 14,33 10.5,28.5" fill="#000" shape-rendering="auto"/>
</svg>
<div class="t" style="left:1425px;top:26.5px;font-size:9.33px;color:#000;letter-spacing:-0.19px;-webkit-text-stroke:0.22px #000;line-height:11px;">1.02570</div>
<div class="t" style="left:1425px;top:59.5px;font-size:9.33px;color:#000;letter-spacing:-0.19px;-webkit-text-stroke:0.22px #000;line-height:11px;">1.02190</div>
<div class="t" style="left:1425px;top:92.5px;font-size:9.33px;color:#000;letter-spacing:-0.19px;-webkit-text-stroke:0.22px #000;line-height:11px;">1.01810</div>
<div class="t" style="left:1425px;top:125.5px;font-size:9.33px;color:#000;letter-spacing:-0.19px;-webkit-text-stroke:0.22px #000;line-height:11px;">1.01430</div>
<div class="t" style="left:1425px;top:158.5px;font-size:9.33px;color:#000;letter-spacing:-0.19px;-webkit-text-stroke:0.22px #000;line-height:11px;">1.01050</div>
<div class="t" style="left:1425px;top:191.5px;font-size:9.33px;color:#000;letter-spacing:-0.19px;-webkit-text-stroke:0.22px #000;line-height:11px;">1.00660</div>
<div class="t" style="left:1425px;top:224.5px;font-size:9.33px;color:#000;letter-spacing:-0.19px;-webkit-text-stroke:0.22px #000;line-height:11px;">1.00280</div>
<div class="t" style="left:1425px;top:257.5px;font-size:9.33px;color:#000;letter-spacing:-0.19px;-webkit-text-stroke:0.22px #000;line-height:11px;">0.99900</div>
<div class="t" style="left:1425px;top:290.5px;font-size:9.33px;color:#000;letter-spacing:-0.19px;-webkit-text-stroke:0.22px #000;line-height:11px;">0.99520</div>
<div class="t" style="left:1425px;top:323.5px;font-size:9.33px;color:#000;letter-spacing:-0.19px;-webkit-text-stroke:0.22px #000;line-height:11px;">0.99140</div>
<div class="t" style="left:1425px;top:356.5px;font-size:9.33px;color:#000;letter-spacing:-0.19px;-webkit-text-stroke:0.22px #000;line-height:11px;">0.98760</div>
<div class="t" style="left:1425px;top:389.5px;font-size:9.33px;color:#000;letter-spacing:-0.19px;-webkit-text-stroke:0.22px #000;line-height:11px;">0.98380</div>
<div class="t" style="left:1425px;top:422.5px;font-size:9.33px;color:#000;letter-spacing:-0.19px;-webkit-text-stroke:0.22px #000;line-height:11px;">0.98000</div>
<div class="t" style="left:1425px;top:455.5px;font-size:9.33px;color:#000;letter-spacing:-0.19px;-webkit-text-stroke:0.22px #000;line-height:11px;">0.97610</div>
<div class="t" style="left:1425px;top:488.5px;font-size:9.33px;color:#000;letter-spacing:-0.19px;-webkit-text-stroke:0.22px #000;line-height:11px;">0.97230</div>
<div class="t" style="left:1425px;top:521.5px;font-size:9.33px;color:#000;letter-spacing:-0.19px;-webkit-text-stroke:0.22px #000;line-height:11px;">0.96850</div>
<div class="t" style="left:1425px;top:554.5px;font-size:9.33px;color:#000;letter-spacing:-0.19px;-webkit-text-stroke:0.22px #000;line-height:11px;">0.96470</div>
<div class="t" style="left:1423px;top:566.5px;font-size:9.33px;color:#000;letter-spacing:-0.19px;-webkit-text-stroke:0.22px #000;line-height:11px;">0.00613</div>
<div class="t" style="left:1423px;top:606.5px;font-size:9.33px;color:#000;letter-spacing:-0.19px;-webkit-text-stroke:0.22px #000;line-height:11px;">0.00</div>
<div class="t" style="left:1423px;top:656.5px;font-size:9.33px;color:#000;letter-spacing:-0.19px;-webkit-text-stroke:0.22px #000;line-height:11px;">-0.007612</div>
<div class="t" style="left:1423px;top:672.5px;font-size:9.33px;color:#000;letter-spacing:-0.19px;-webkit-text-stroke:0.22px #000;line-height:11px;">100</div>
<div class="t" style="left:1423px;top:705.5px;font-size:9.33px;color:#000;letter-spacing:-0.19px;-webkit-text-stroke:0.22px #000;line-height:11px;">70</div>
<div class="t" style="left:1423px;top:756.5px;font-size:9.33px;color:#000;letter-spacing:-0.19px;-webkit-text-stroke:0.22px #000;line-height:11px;">30</div>
<div class="t" style="left:1423px;top:788.5px;font-size:9.33px;color:#000;letter-spacing:-0.19px;-webkit-text-stroke:0.22px #000;line-height:11px;">0</div>
<div class="t" style="left:3px;top:804.5px;font-size:9.33px;color:#000;letter-spacing:-0.1px;word-spacing:0.4px;-webkit-text-stroke:0.22px #000;line-height:11px;">20 Dec 2018</div>
<div class="t" style="left:67px;top:804.5px;font-size:9.33px;color:#000;letter-spacing:-0.1px;word-spacing:0.4px;-webkit-text-stroke:0.22px #000;line-height:11px;">8 Jan 2019</div>
<div class="t" style="left:131px;top:804.5px;font-size:9.33px;color:#000;letter-spacing:-0.1px;word-spacing:0.4px;-webkit-text-stroke:0.22px #000;line-height:11px;">27 Jan 2019</div>
<div class="t" style="left:195px;top:804.5px;font-size:9.33px;color:#000;letter-spacing:-0.1px;word-spacing:0.4px;-webkit-text-stroke:0.22px #000;line-height:11px;">14 Feb 2019</div>
<div class="t" style="left:259px;top:804.5px;font-size:9.33px;color:#000;letter-spacing:-0.1px;word-spacing:0.4px;-webkit-text-stroke:0.22px #000;line-height:11px;">5 Mar 2019</div>
<div class="t" style="left:323px;top:804.5px;font-size:9.33px;color:#000;letter-spacing:-0.1px;word-spacing:0.4px;-webkit-text-stroke:0.22px #000;line-height:11px;">24 Mar 2019</div>
<div class="t" style="left:387px;top:804.5px;font-size:9.33px;color:#000;letter-spacing:-0.1px;word-spacing:0.4px;-webkit-text-stroke:0.22px #000;line-height:11px;">11 Apr 2019</div>
<div class="t" style="left:451px;top:804.5px;font-size:9.33px;color:#000;letter-spacing:-0.1px;word-spacing:0.4px;-webkit-text-stroke:0.22px #000;line-height:11px;">1 May 2019</div>
<div class="t" style="left:515px;top:804.5px;font-size:9.33px;color:#000;letter-spacing:-0.1px;word-spacing:0.4px;-webkit-text-stroke:0.22px #000;line-height:11px;">20 May 2019</div>
<div class="t" style="left:579px;top:804.5px;font-size:9.33px;color:#000;letter-spacing:-0.1px;word-spacing:0.4px;-webkit-text-stroke:0.22px #000;line-height:11px;">7 Jun 2019</div>
<div class="t" style="left:643px;top:804.5px;font-size:9.33px;color:#000;letter-spacing:-0.1px;word-spacing:0.4px;-webkit-text-stroke:0.22px #000;line-height:11px;">26 Jun 2019</div>
<div class="t" style="left:707px;top:804.5px;font-size:9.33px;color:#000;letter-spacing:-0.1px;word-spacing:0.4px;-webkit-text-stroke:0.22px #000;line-height:11px;">15 Jul 2019</div>
<div class="t" style="left:771px;top:804.5px;font-size:9.33px;color:#000;letter-spacing:-0.1px;word-spacing:0.4px;-webkit-text-stroke:0.22px #000;line-height:11px;">2 Aug 2019</div>
<div class="t" style="left:835px;top:804.5px;font-size:9.33px;color:#000;letter-spacing:-0.1px;word-spacing:0.4px;-webkit-text-stroke:0.22px #000;line-height:11px;">21 Aug 2019</div>
<div class="t" style="left:899px;top:804.5px;font-size:9.33px;color:#000;letter-spacing:-0.1px;word-spacing:0.4px;-webkit-text-stroke:0.22px #000;line-height:11px;">9 Sep 2019</div>
<div class="t" style="left:963px;top:804.5px;font-size:9.33px;color:#000;letter-spacing:-0.1px;word-spacing:0.4px;-webkit-text-stroke:0.22px #000;line-height:11px;">27 Sep 2019</div>
<div class="t" style="left:1027px;top:804.5px;font-size:9.33px;color:#000;letter-spacing:-0.1px;word-spacing:0.4px;-webkit-text-stroke:0.22px #000;line-height:11px;">16 Oct 2019</div>
<div class="t" style="left:1091px;top:804.5px;font-size:9.33px;color:#000;letter-spacing:-0.1px;word-spacing:0.4px;-webkit-text-stroke:0.22px #000;line-height:11px;">4 Nov 2019</div>
<div class="t" style="left:16px;top:826.8px;font-size:12px;color:#6d6d6d;letter-spacing:0.11px;line-height:14px;">EURUSD-,Daily</div>
<div class="t" style="left:123px;top:826.8px;font-size:12px;color:#6d6d6d;letter-spacing:0.23px;line-height:14px;">AUDUSD-,Daily</div>
<div class="t" style="left:233px;top:826.8px;font-size:12px;color:#000;letter-spacing:0.04px;line-height:14px;">USDCHF-,Daily</div>
<div class="t" style="left:340px;top:826.8px;font-size:12px;color:#6d6d6d;letter-spacing:0.15px;line-height:14px;">USDCAD-,Daily</div>
<div class="t" style="left:449px;top:826.8px;font-size:12px;color:#6d6d6d;letter-spacing:0.27px;line-height:14px;">USDCNH-,Daily</div>
<div class="t" style="left:560px;top:826.8px;font-size:12px;color:#6d6d6d;letter-spacing:0.08px;line-height:14px;">EURCHF-,Weekly</div>
<div class="t" style="left:679px;top:826.8px;font-size:12px;color:#6d6d6d;letter-spacing:0.5px;line-height:14px;">XAUUSD-,Weekly</div>
<div class="t" style="left:804px;top:826.8px;font-size:12px;color:#6d6d6d;letter-spacing:0.01px;line-height:14px;">GBPUSD-,H1</div>
<div class="t" style="left:900px;top:826.8px;font-size:12px;color:#6d6d6d;letter-spacing:0.44px;line-height:14px;">UKOil-,H1</div>
<div class="t" style="left:979px;top:826.8px;font-size:12px;color:#6d6d6d;letter-spacing:0.34px;line-height:14px;">USDX-,Weekly</div>
<div class="t" style="left:1083px;top:826.8px;font-size:12px;color:#6d6d6d;letter-spacing:-0.19px;line-height:14px;">EURCHF-,H1</div>
<div class="t" style="left:1176.5px;top:826.8px;font-size:12px;color:#6d6d6d;letter-spacing:0.37px;line-height:14px;">USOil-,H1</div>
<div class="t" style="left:6.3px;top:1.4px;font-size:10.2px;color:#3c3c3c;line-height:12px;">H4</div>
<div class="t" style="left:36.3px;top:1.4px;font-size:10.2px;color:#3c3c3c;line-height:12px;">D1</div>
<div class="t" style="left:63.3px;top:1.4px;font-size:10.2px;color:#3c3c3c;line-height:12px;">W1</div>
<div class="t" style="left:89.3px;top:1.4px;font-size:10.2px;color:#3c3c3c;line-height:12px;">MN</div>
<div class="t" style="left:19px;top:25.4px;font-size:9.33px;color:#000;letter-spacing:0.13px;-webkit-text-stroke:0.22px #000;line-height:11px;">USDCHF-,Daily</div>
<div class="t" style="left:93px;top:25.4px;font-size:9.33px;color:#000;letter-spacing:-0.19px;word-spacing:1.4px;-webkit-text-stroke:0.22px #000;line-height:11px;">0.98968 0.99069 0.98933 0.99059</div>
<div class="t" style="left:8px;top:568px;font-size:9.33px;color:#000;letter-spacing:0.1px;-webkit-text-stroke:0.22px #000;line-height:11px;">MACD(12,26,9)</div>
<div class="t" style="left:77px;top:568px;font-size:9.33px;color:#000;letter-spacing:-0.19px;word-spacing:1.4px;-webkit-text-stroke:0.22px #000;line-height:11px;">0.000189 0.000153</div>
<div class="t" style="left:8px;top:674px;font-size:9.33px;color:#000;letter-spacing:-0.05px;word-spacing:0.4px;-webkit-text-stroke:0.22px #000;line-height:11px;">RSI(14) 47.6038</div>
<svg width="1463" height="844" viewBox="0 0 1463 844" shape-rendering="crispEdges">
<rect x="1421" y="330" width="41" height="11" fill="#000"/>
<rect x="3" y="42" width="7" height="7" fill="#ff0000"/>
<rect x="6" y="45" width="1" height="1" fill="#fff"/>
<rect x="1413" y="42" width="7" height="7" fill="#ff0000"/>
<rect x="1416" y="45" width="1" height="1" fill="#fff"/>
<rect x="1421" y="39" width="41" height="11" fill="#ff0000"/>
<rect x="3" y="146" width="7" height="7" fill="#ff0000"/>
<rect x="6" y="149" width="1" height="1" fill="#fff"/>
<rect x="1413" y="146" width="7" height="7" fill="#ff0000"/>
<rect x="1416" y="149" width="1" height="1" fill="#fff"/>
<rect x="1421" y="143" width="41" height="11" fill="#ff0000"/>
<rect x="3" y="268" width="7" height="7" fill="#00ff00"/>
<rect x="6" y="271" width="1" height="1" fill="#fff"/>
<rect x="1413" y="268" width="7" height="7" fill="#00ff00"/>
<rect x="1416" y="271" width="1" height="1" fill="#fff"/>
<rect x="1421" y="265" width="41" height="11" fill="#00ff00"/>
<rect x="1421" y="420" width="41" height="11" fill="#0000ff"/>
<rect x="1421" y="507" width="41" height="11" fill="#0000ff"/>
<defs><linearGradient id="gb" x1="0" y1="0" x2="0" y2="1"><stop offset="0" stop-color="#4a4af5"/><stop offset="1" stop-color="#2d2de0"/></linearGradient><linearGradient id="gd" x1="0" y1="0" x2="0" y2="1"><stop offset="0" stop-color="#2b2bdc"/><stop offset="1" stop-color="#00009c"/></linearGradient><linearGradient id="gbtn" x1="0" y1="0" x2="0" y2="1"><stop offset="0" stop-color="#f4f4f4"/><stop offset="0.5" stop-color="#e4e4e4"/><stop offset="0.5" stop-color="#d4d4d4"/><stop offset="1" stop-color="#cacaca"/></linearGradient></defs>
<rect x="5" y="40" width="223" height="68" fill="#ffffff"/>
<rect x="7" y="42" width="52" height="24" fill="url(#gb)"/>
<rect x="174" y="42" width="52" height="24" fill="url(#gb)"/>
<rect x="7" y="66" width="109" height="40" fill="url(#gd)"/>
<rect x="118" y="66" width="108" height="40" fill="url(#gd)"/>
<rect x="11" y="66" width="44" height="1" fill="#7c7ce6"/>
<rect x="178" y="66" width="44" height="1" fill="#7c7ce6"/>
<rect x="61" y="42" width="111" height="22" fill="#adadad"/>
<rect x="62" y="43" width="109" height="20" fill="#ffffff"/>
<rect x="62" y="43" width="20" height="20" fill="url(#gbtn)"/>
<rect x="151" y="43" width="20" height="20" fill="url(#gbtn)"/>
<rect x="82" y="43" width="1" height="20" fill="#b8b8b8"/>
<rect x="150" y="43" width="1" height="20" fill="#b8b8b8"/>
<polygon points="69.3,51 74.7,51 72,54.3" fill="#4a62c4" shape-rendering="auto"/>
<polygon points="157.8,54.2 163.2,54.2 160.5,51" fill="#4a62c4" shape-rendering="auto"/>
<defs><linearGradient id="gdU" gradientUnits="userSpaceOnUse" x1="0" y1="66" x2="0" y2="106"><stop offset="0" stop-color="#2b2bdc"/><stop offset="1" stop-color="#00009c"/></linearGradient></defs>
<text x="53.6" y="97.3" font-family="Liberation Sans, sans-serif" font-size="34.6" fill="#fff" stroke="url(#gdU)" stroke-width="0.9" textLength="35.6" lengthAdjust="spacingAndGlyphs" shape-rendering="auto" text-rendering="geometricPrecision">05</text>
<text x="164.9" y="97.3" font-family="Liberation Sans, sans-serif" font-size="34.6" fill="#fff" stroke="url(#gdU)" stroke-width="0.9" textLength="35.6" lengthAdjust="spacingAndGlyphs" shape-rendering="auto" text-rendering="geometricPrecision">08</text>
</svg>
<div class="t" style="left:1425px;top:39.5px;font-size:9.33px;color:#fff;letter-spacing:-0.19px;-webkit-text-stroke:0.22px #fff;line-height:11px;">1.02406</div>
<div class="t" style="left:1425px;top:143.5px;font-size:9.33px;color:#fff;letter-spacing:-0.19px;-webkit-text-stroke:0.22px #fff;line-height:11px;">1.01206</div>
<div class="t" style="left:1425px;top:265.5px;font-size:9.33px;color:#fff;letter-spacing:-0.19px;-webkit-text-stroke:0.22px #fff;line-height:11px;">0.99798</div>
<div class="t" style="left:1425px;top:420.5px;font-size:9.33px;color:#fff;letter-spacing:-0.19px;-webkit-text-stroke:0.22px #fff;line-height:11px;">0.98009</div>
<div class="t" style="left:1425px;top:507.5px;font-size:9.33px;color:#fff;letter-spacing:-0.19px;-webkit-text-stroke:0.22px #fff;line-height:11px;">0.97006</div>
<div class="t" style="left:19.3px;top:47px;font-size:12px;color:#fff;letter-spacing:-0.9px;line-height:14px;">SELL</div>
<div class="t" style="left:186.8px;top:47px;font-size:12px;color:#fff;letter-spacing:-0.6px;line-height:14px;">BUY</div>
<div class="t" style="left:123px;top:46px;font-size:12px;color:#000;line-height:14px;">1.00</div>
<div class="t" style="left:26.4px;top:86.5px;font-size:11.5px;color:#fff;letter-spacing:0.85px;font-weight:bold;line-height:12px;">0.99</div>
<div class="t" style="left:136.4px;top:86.5px;font-size:11.5px;color:#fff;letter-spacing:0.85px;font-weight:bold;line-height:12px;">0.99</div>
<div class="t" style="left:94px;top:71.5px;font-size:12px;color:#fff;font-weight:bold;line-height:13px;">9</div>
<div class="t" style="left:205px;top:71.5px;font-size:12px;color:#fff;font-weight:bold;line-height:13px;">4</div>
<div class="t" style="left:1425px;top:330.5px;font-size:9.33px;color:#fff;letter-spacing:-0.19px;-webkit-text-stroke:0.22px #fff;line-height:11px;">0.99059</div>
</body></html>
